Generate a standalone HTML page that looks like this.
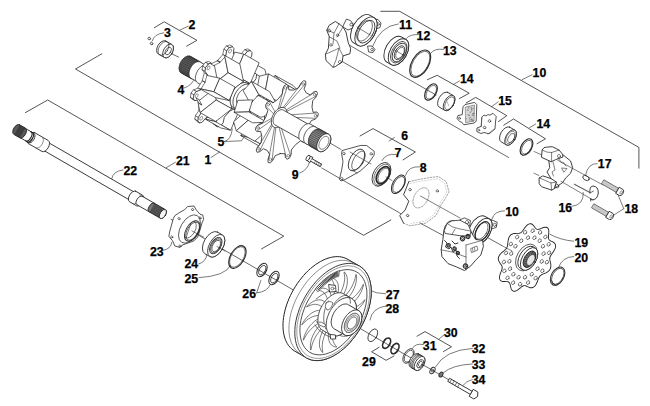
<!DOCTYPE html>
<html><head><meta charset="utf-8"><style>
html,body{margin:0;padding:0;background:#fff;width:650px;height:406px;overflow:hidden}
svg{display:block}
.l{font-family:"Liberation Sans",sans-serif;font-weight:bold;font-size:12.3px;fill:#000;stroke:#000;stroke-width:0.25px}
</style></head><body>
<svg width="650" height="406" viewBox="0 0 650 406" stroke-linecap="round" stroke-linejoin="round">
<path d="M101.8,53.8 L75.5,69 L363.5,235.3 L390.8,220" fill="none" stroke="#2a2a2a" stroke-width="0.8" />
<path d="M25.4,112.6 L47.7,100 L283.8,236.2 L261.5,248.9" fill="none" stroke="#2a2a2a" stroke-width="0.8" />
<path d="M380.8,11.3 L399.7,11.3 L638.9,147.4 L638.9,168.2" fill="none" stroke="#2a2a2a" stroke-width="0.8" />
<path d="M154.3,27.7 L164.2,21.8 L196.9,40.3 L186.6,46.2" fill="none" stroke="#2a2a2a" stroke-width="0.8" />
<path d="M360,136 L373,128.6 L415.4,152 L403,159.9" fill="none" stroke="#2a2a2a" stroke-width="0.8" />
<path d="M427.4,79.7 L437.2,75.3 L469.2,93.2 L459.4,98.6" fill="none" stroke="#2a2a2a" stroke-width="0.8" />
<path d="M466.2,102.9 L475.7,97.4 L506.8,115.7 L498.5,121.5" fill="none" stroke="#2a2a2a" stroke-width="0.8" />
<path d="M503.7,125.2 L513.5,119 L545.5,138.8 L537,143.7" fill="none" stroke="#2a2a2a" stroke-width="0.8" />
<path d="M417,336.2 L425,331.6 L451.5,346.8 L443.5,351.5" fill="none" stroke="#2a2a2a" stroke-width="0.8" />
<path d="M379.2,347.2 L371.6,351.8 L386.1,360.3 L394,356" fill="none" stroke="#2a2a2a" stroke-width="0.8" />
<path d="M342,61.4 L508.6,157.5" fill="none" stroke="#2a2a2a" stroke-width="0.7" />
<path d="M350,45.5 L436,95" fill="none" stroke="#2a2a2a" stroke-width="0.7" />
<path d="M171,219.3 L470,392" fill="none" stroke="#2a2a2a" stroke-width="0.7" />
<path d="M321.8,168 L400.6,213.5" fill="none" stroke="#2a2a2a" stroke-width="0.7" />
<path d="M330,143 L341,149.5" fill="none" stroke="#2a2a2a" stroke-width="0.7" />
<path d="M486.5,237 L501.7,245.5" fill="none" stroke="#2a2a2a" stroke-width="0.7" />
<path d="M420,223 L443.5,235.7" fill="none" stroke="#2a2a2a" stroke-width="0.7" />
<path d="M163.8,32.8 Q154,34 152.3,40.8" fill="none" stroke="#444" stroke-width="0.7" />
<path d="M180,30 L188.2,26.2" fill="none" stroke="#444" stroke-width="0.7" />
<path d="M184,88 Q192,86 196,76" fill="none" stroke="#444" stroke-width="0.7" />
<path d="M224.6,141.5 Q231,140 232.3,129 M224.6,141.5 L241.5,140.8 L244,137" fill="none" stroke="#444" stroke-width="0.7" />
<path d="M299.7,173 Q308,170 309.5,161.8" fill="none" stroke="#444" stroke-width="0.7" />
<path d="M394.5,137.5 L389,141" fill="none" stroke="#444" stroke-width="0.7" />
<path d="M395.7,154.5 Q386,153 382,160.6" fill="none" stroke="#444" stroke-width="0.7" />
<path d="M419.8,166.8 Q408,166 405.5,175.4" fill="none" stroke="#444" stroke-width="0.7" />
<path d="M532,74.8 L522,79.7" fill="none" stroke="#444" stroke-width="0.7" />
<path d="M398.4,23.9 Q380,26 372,47.7" fill="none" stroke="#444" stroke-width="0.7" />
<path d="M419.1,34.6 Q410,34 406.6,38.3" fill="none" stroke="#444" stroke-width="0.7" />
<path d="M443.5,49.4 Q434,48 430.2,53.8" fill="none" stroke="#444" stroke-width="0.7" />
<path d="M459.4,81 L453.2,84.6" fill="none" stroke="#444" stroke-width="0.7" />
<path d="M498.3,101.8 L491.4,106.8" fill="none" stroke="#444" stroke-width="0.7" />
<path d="M535.7,124 L529.5,127.7" fill="none" stroke="#444" stroke-width="0.7" />
<path d="M597.2,163.6 Q588,163 585.6,175" fill="none" stroke="#444" stroke-width="0.7" />
<path d="M571.8,206.4 Q584,205 583.3,192.5" fill="none" stroke="#444" stroke-width="0.7" />
<path d="M623.8,208.7 L618,194.8 M623.8,208.7 L611,216.8" fill="none" stroke="#444" stroke-width="0.7" />
<path d="M504.5,210.8 Q494,211 492,219" fill="none" stroke="#444" stroke-width="0.7" />
<path d="M573.7,241.2 Q560,240 550,234.3" fill="none" stroke="#444" stroke-width="0.7" />
<path d="M573.7,256.5 Q562,257 558.5,267.5" fill="none" stroke="#444" stroke-width="0.7" />
<path d="M166.2,167.7 L175.4,162.3" fill="none" stroke="#444" stroke-width="0.7" />
<path d="M123,170 Q113,171 111.6,179" fill="none" stroke="#444" stroke-width="0.7" />
<path d="M163,250.4 Q171,249 171.8,242.3" fill="none" stroke="#444" stroke-width="0.7" />
<path d="M198.8,263.9 Q206,262 207,254.3" fill="none" stroke="#444" stroke-width="0.7" />
<path d="M198.8,277.7 Q226,276 230.5,265.3" fill="none" stroke="#444" stroke-width="0.7" />
<path d="M256.7,292.9 L260.8,280.5 M256.7,292.9 Q267,292 270.4,284.6" fill="none" stroke="#444" stroke-width="0.7" />
<path d="M367.9,289.4 Q376,294 385.6,293.8" fill="none" stroke="#444" stroke-width="0.7" />
<path d="M385.6,306 Q372,308 370,320" fill="none" stroke="#444" stroke-width="0.7" />
<path d="" fill="none" stroke="#444" stroke-width="0.7" />
<path d="M444.6,334.5 L438.8,339.2" fill="none" stroke="#444" stroke-width="0.7" />
<path d="M423.4,344.5 Q415,343 412.3,348.5" fill="none" stroke="#444" stroke-width="0.7" />
<path d="M472.3,348.5 Q445,350 435.4,367" fill="none" stroke="#444" stroke-width="0.7" />
<path d="M472.3,364 Q452,365 443.5,372.7" fill="none" stroke="#444" stroke-width="0.7" />
<path d="M472.3,379.6 Q466,381 463,385.4" fill="none" stroke="#444" stroke-width="0.7" />
<path d="M211,157.5 L219.5,152" fill="none" stroke="#444" stroke-width="0.7" />
<g transform="translate(14.00,128.00) rotate(30)">
<path d="M36,-4.6 L140,-4.6 A2.53,4.6 0 0 1 140,4.6 L36,4.6 A2.53,4.6 0 0 1 36,-4.6 Z" fill="#fff" stroke="#222" stroke-width="0.8"/>
<path d="M20,-6.3 L36,-6.3 A3.47,6.3 0 0 1 36,6.3 L20,6.3 A3.47,6.3 0 0 1 20,-6.3 Z" fill="#fff" stroke="#222" stroke-width="0.8"/>
<path d="M29,-6.3 A3.47,6.3 0 0 1 29,6.3" fill="none" stroke="#555" stroke-width="0.6"/>
<path d="M10,-5.3 L20,-5.3 A2.92,5.3 0 0 1 20,5.3 L10,5.3 A2.92,5.3 0 0 1 10,-5.3 Z" fill="#fff" stroke="#222" stroke-width="0.8"/>
<path d="M16.5,-5.3 A2.92,5.3 0 0 1 16.5,5.3" fill="none" stroke="#222" stroke-width="1.1"/>
<path d="M18.3,-5.3 A2.92,5.3 0 0 1 18.3,5.3" fill="none" stroke="#222" stroke-width="1.1"/>
<path d="M3,-5.6 L10,-5.6 A3.08,5.6 0 0 1 10,5.6 L3,5.6 A3.08,5.6 0 0 1 3,-5.6 Z" fill="#5a5a5a" stroke="#222" stroke-width="0.8"/>
<path d="M3.9,-5.2 L3.9,5.2 M4.8,-5.2 L4.8,5.2 M5.7,-5.2 L5.7,5.2 M6.6,-5.2 L6.6,5.2 M7.5,-5.2 L7.5,5.2 M8.4,-5.2 L8.4,5.2 M9.3,-5.2 L9.3,5.2" stroke="#222" stroke-width="0.5"/>
<path d="M137,-6.1 L145,-6.1 A3.35,6.1 0 0 1 145,6.1 L137,6.1 A3.35,6.1 0 0 1 137,-6.1 Z" fill="#fff" stroke="#222" stroke-width="0.8"/>
<path d="M141,-6.1 A3.35,6.1 0 0 1 141,6.1" fill="none" stroke="#555" stroke-width="0.6"/>
<path d="M145,-5.0 L159,-5.0 A2.75,5.0 0 0 1 159,5.0 L145,5.0 A2.75,5.0 0 0 1 145,-5.0 Z" fill="#fff" stroke="#222" stroke-width="0.8"/>
<path d="M159,-5.0 L172,-5.0 A2.75,5.0 0 0 1 172,5.0 L159,5.0 A2.75,5.0 0 0 1 159,-5.0 Z" fill="#777" stroke="#222" stroke-width="0.8"/>
<path d="M160.0,-4.7 L160.0,4.7 M161.0,-4.7 L161.0,4.7 M162.0,-4.7 L162.0,4.7 M163.0,-4.7 L163.0,4.7 M164.0,-4.7 L164.0,4.7 M165.0,-4.7 L165.0,4.7 M166.0,-4.7 L166.0,4.7 M167.0,-4.7 L167.0,4.7 M168.0,-4.7 L168.0,4.7 M169.0,-4.7 L169.0,4.7 M170.0,-4.7 L170.0,4.7 M171.0,-4.7 L171.0,4.7" stroke="#222" stroke-width="0.5"/>
<ellipse cx="172" cy="0" rx="2.75" ry="5" fill="#f6f6f6" stroke="#222" stroke-width="0.8"/>
</g>
<path d="M188.0,206.5 L194.0,206.0 L196.2,209.8 L200.0,214.2 L202.8,215.0 L203.6,219.4 L202.0,223.0 L200.0,230.0 L197.7,237.0 L194.0,240.8 L182.0,245.2 L180.0,247.4 L174.8,246.0 L172.6,240.8 L168.9,236.4 L169.6,232.0 L173.3,218.6 L174.8,215.7 L179.2,212.7 L184.4,209.8 Z" fill="#fff" stroke="#2a2a2a" stroke-width="0.8" />
<ellipse cx="192.50" cy="209.50" rx="1.10" ry="1.10" transform="rotate(30 192.50 209.50)" fill="none" stroke="#2a2a2a" stroke-width="0.6" />
<ellipse cx="179.00" cy="218.60" rx="1.10" ry="1.10" transform="rotate(30 179.00 218.60)" fill="none" stroke="#2a2a2a" stroke-width="0.6" />
<ellipse cx="171.80" cy="237.00" rx="1.10" ry="1.10" transform="rotate(30 171.80 237.00)" fill="none" stroke="#2a2a2a" stroke-width="0.6" />
<ellipse cx="180.00" cy="246.00" rx="1.10" ry="1.10" transform="rotate(30 180.00 246.00)" fill="none" stroke="#2a2a2a" stroke-width="0.6" />
<ellipse cx="200.00" cy="218.00" rx="1.10" ry="1.10" transform="rotate(30 200.00 218.00)" fill="none" stroke="#2a2a2a" stroke-width="0.6" />
<ellipse cx="189.50" cy="229.00" rx="9.00" ry="15.50" transform="rotate(30 189.50 229.00)" fill="none" stroke="#2a2a2a" stroke-width="0.7" />
<ellipse cx="192.30" cy="231.00" rx="6.30" ry="11.20" transform="rotate(30 192.30 231.00)" fill="none" stroke="#2a2a2a" stroke-width="0.9" />
<ellipse cx="192.60" cy="231.20" rx="5.50" ry="10.00" transform="rotate(30 192.60 231.20)" fill="none" stroke="#2a2a2a" stroke-width="0.7" />
<path d="M0,-9.5 A5.3,9.5 0 0 1 0,9.5" transform="translate(189.8,229.6) rotate(30)" fill="none" stroke="#333" stroke-width="0.6"/>
<path d="M186,238 L191,223 M192,231 L203.6,237" fill="none" stroke="#2a2a2a" stroke-width="0.6" />
<g transform="translate(214.50,244.80) rotate(30)">
<path d="M-4,-12.5 L2,-12.5 A6.875000000000001,12.5 0 0 1 2,12.5 L-4,12.5 A6.875000000000001,12.5 0 0 1 -4,-12.5 Z" fill="#fff" stroke="#2a2a2a" stroke-width="0.8"/>
<ellipse cx="2" cy="0" rx="6.875000000000001" ry="12.5" fill="#fff" stroke="#2a2a2a" stroke-width="0.8"/>
</g>
<ellipse cx="215.80" cy="245.60" rx="5.00" ry="9.00" transform="rotate(30 215.80 245.60)" fill="none" stroke="#2a2a2a" stroke-width="0.9" />
<ellipse cx="216.00" cy="245.80" rx="4.30" ry="7.80" transform="rotate(30 216.00 245.80)" fill="none" stroke="#555" stroke-width="0.9" />
<ellipse cx="216.20" cy="246.00" rx="3.50" ry="6.30" transform="rotate(30 216.20 246.00)" fill="none" stroke="#2a2a2a" stroke-width="0.7" />
<path d="M217,246.5 L225,251" fill="none" stroke="#2a2a2a" stroke-width="0.6" />
<ellipse cx="237.40" cy="257.00" rx="7.00" ry="12.50" transform="rotate(30 237.40 257.00)" fill="none" stroke="#2a2a2a" stroke-width="1.1" />
<ellipse cx="237.40" cy="257.00" rx="6.20" ry="11.30" transform="rotate(30 237.40 257.00)" fill="none" stroke="#2a2a2a" stroke-width="0.6" />
<ellipse cx="262.00" cy="270.00" rx="4.30" ry="7.30" transform="rotate(30 262.00 270.00)" fill="none" stroke="#2a2a2a" stroke-width="1.0" />
<ellipse cx="262.30" cy="270.20" rx="3.00" ry="5.20" transform="rotate(30 262.30 270.20)" fill="none" stroke="#2a2a2a" stroke-width="0.8" />
<ellipse cx="274.00" cy="278.00" rx="4.30" ry="7.30" transform="rotate(30 274.00 278.00)" fill="none" stroke="#2a2a2a" stroke-width="1.0" />
<ellipse cx="274.30" cy="278.20" rx="3.00" ry="5.20" transform="rotate(30 274.30 278.20)" fill="none" stroke="#2a2a2a" stroke-width="0.8" />
<path d="M347.7,259.3 L345.9,258.4 L343.9,257.6 L341.8,257.1 L339.7,256.7 L337.5,256.6 L335.2,256.7 L332.8,257.0 L330.4,257.5 L328.0,258.2 L325.5,259.1 L323.0,260.2 L320.5,261.5 L318.0,263.0 L315.5,264.6 L313.0,266.5 L310.6,268.5 L308.2,270.6 L305.9,272.9 L303.7,275.4 L301.5,278.0 L299.4,280.7 L297.4,283.4 L295.5,286.3 L293.7,289.3 L292.0,292.3 L290.5,295.4 L289.0,298.6 L287.8,301.7 L286.6,304.9 L285.6,308.1 L284.8,311.2 L284.1,314.4 L283.6,317.5 L283.2,320.5 L283.0,323.5 L283.0,326.4 L283.1,329.2 L283.4,331.9 L283.9,334.5 L284.5,337.0 L285.3,339.3 L286.2,341.5 L287.3,343.6 L288.5,345.4 L289.9,347.1 L291.4,348.6 L293.0,350.0 L294.7,351.1 L306.5,357.9 L308.4,358.8 L310.3,359.6 L312.4,360.1 L314.5,360.5 L316.8,360.6 L319.1,360.5 L321.4,360.2 L323.8,359.7 L326.3,359.0 L328.7,358.1 L331.2,357.0 L333.7,355.7 L336.2,354.2 L338.7,352.6 L341.2,350.7 L343.6,348.7 L346.0,346.6 L348.3,344.3 L350.6,341.8 L352.7,339.2 L354.8,336.5 L356.8,333.8 L358.7,330.9 L360.5,327.9 L362.2,324.9 L363.8,321.8 L365.2,318.6 L366.5,315.5 L367.6,312.3 L368.6,309.1 L369.4,306.0 L370.1,302.8 L370.6,299.7 L371.0,296.7 L371.2,293.7 L371.2,290.8 L371.1,288.0 L370.8,285.3 L370.3,282.7 L369.7,280.2 L368.9,277.9 L368.0,275.7 L366.9,273.6 L365.7,271.8 L364.4,270.1 L362.9,268.6 L361.2,267.2 L359.5,266.1 Z" fill="#fff" stroke="#222" stroke-width="1.0"/>
<path d="M306.5,357.9 L309.0,359.1 L311.7,360.0 L314.5,360.5 L317.5,360.6 L320.6,360.3 L323.8,359.7 L327.1,358.7 L330.4,357.4 L333.7,355.7 L337.1,353.7 L340.4,351.4 L343.6,348.7 L346.8,345.8 L349.8,342.6 L352.7,339.2 L355.5,335.6 L358.1,331.8 L360.5,327.9 L362.7,323.8 L364.7,319.7 L366.5,315.5 L367.9,311.2 L369.2,307.0 L370.1,302.8 L370.8,298.7 L371.1,294.7 L371.2,290.8 L371.0,287.1 L370.5,283.5 L369.7,280.2 L368.7,277.1 L367.3,274.3 L365.7,271.8 L363.9,269.6 L361.8,267.7 L359.5,266.1 L357.0,264.9 L354.3,264.0 L351.5,263.5 L348.5,263.4 L345.4,263.7 L342.2,264.3 L338.9,265.3 L335.6,266.6 L332.3,268.3 L328.9,270.3 L325.6,272.6 L322.4,275.3 L319.2,278.2 L316.2,281.4 L313.3,284.8 L310.5,288.4 L307.9,292.2 L305.5,296.1 L303.3,300.2 L301.3,304.3 L299.5,308.5 L298.1,312.8 L296.8,317.0 L295.9,321.2 L295.2,325.3 L294.9,329.3 L294.8,333.2 L295.0,336.9 L295.5,340.5 L296.3,343.8 L297.3,346.9 L298.7,349.7 L300.3,352.2 L302.1,354.4 L304.2,356.3 Z" fill="#fff" stroke="#222" stroke-width="0.9" />
<path d="M353.0,262.9 L350.5,261.7 L347.9,260.9 L345.1,260.4 L342.1,260.3 L339.0,260.5 L335.9,261.1 L332.6,262.1 L329.3,263.4 L326.0,265.1 L322.7,267.1 L319.5,269.4 L316.3,272.0 L313.1,274.9 L310.1,278.0 L307.2,281.4 L304.5,285.0 L301.9,288.7 L299.5,292.6 L297.3,296.7 L295.3,300.8 L293.6,305.0 L292.2,309.2 L290.9,313.3 L290.0,317.5 L289.4,321.6 L289.0,325.6 L288.9,329.4 L289.1,333.1 L289.6,336.6 L290.4,339.9 L291.4,343.0 L292.8,345.7 L294.3,348.2 L296.2,350.4 L298.2,352.3 L300.5,353.9" fill="none" stroke="#444" stroke-width="0.6"/>
<path d="M308.0,355.9 L310.3,357.0 L312.9,357.8 L315.6,358.3 L318.5,358.4 L321.4,358.2 L324.5,357.6 L327.6,356.6 L330.7,355.4 L333.9,353.8 L337.1,351.8 L340.2,349.6 L343.3,347.1 L346.3,344.3 L349.2,341.3 L352.0,338.1 L354.7,334.6 L357.1,331.0 L359.4,327.3 L361.5,323.4 L363.4,319.4 L365.1,315.4 L366.5,311.4 L367.7,307.4 L368.6,303.4 L369.2,299.4 L369.5,295.6 L369.6,291.9 L369.4,288.4 L368.9,285.0 L368.2,281.8 L367.2,278.9 L365.9,276.2 L364.4,273.8 L362.6,271.7 L360.6,269.9 L358.5,268.4 L356.1,267.2 L353.5,266.4 L350.8,266.0 L348.0,265.8 L345.0,266.1 L342.0,266.7 L338.8,267.6 L335.7,268.9 L332.5,270.5 L329.3,272.4 L326.2,274.6 L323.1,277.1 L320.1,279.9 L317.2,282.9 L314.4,286.2 L311.8,289.6 L309.3,293.2 L307.0,297.0 L304.9,300.8 L303.0,304.8 L301.3,308.8 L299.9,312.8 L298.8,316.9 L297.9,320.9 L297.2,324.8 L296.9,328.6 L296.8,332.3 L297.0,335.9 L297.5,339.3 L298.2,342.4 L299.2,345.4 L300.5,348.0 L302.0,350.4 L303.8,352.6 L305.8,354.4 Z" fill="none" stroke="#555" stroke-width="0.6" />
<path d="M310.2,352.5 L312.4,353.6 L314.7,354.3 L317.2,354.7 L319.8,354.9 L322.6,354.6 L325.4,354.1 L328.2,353.2 L331.1,352.1 L334.1,350.6 L337.0,348.8 L339.9,346.8 L342.7,344.5 L345.5,341.9 L348.2,339.1 L350.7,336.1 L353.2,333.0 L355.5,329.6 L357.6,326.2 L359.5,322.6 L361.2,319.0 L362.8,315.3 L364.1,311.6 L365.1,307.9 L366.0,304.2 L366.5,300.6 L366.9,297.0 L366.9,293.6 L366.8,290.4 L366.3,287.3 L365.6,284.3 L364.7,281.6 L363.5,279.2 L362.1,277.0 L360.5,275.0 L358.7,273.3 L356.7,272.0 L354.5,270.9 L352.1,270.2 L349.6,269.7 L347.0,269.6 L344.3,269.8 L341.5,270.4 L338.6,271.3 L335.7,272.4 L332.8,273.9 L329.9,275.7 L327.0,277.7 L324.1,280.0 L321.3,282.6 L318.7,285.4 L316.1,288.3 L313.7,291.5 L311.4,294.8 L309.3,298.3 L307.3,301.9 L305.6,305.5 L304.1,309.2 L302.8,312.9 L301.7,316.6 L300.9,320.3 L300.3,323.9 L300.0,327.4 L299.9,330.9 L300.1,334.1 L300.5,337.2 L301.2,340.1 L302.1,342.8 L303.3,345.3 L304.7,347.5 L306.3,349.5 L308.1,351.1 Z" fill="#fff" stroke="#222" stroke-width="0.8" />
<path d="M323.0,330.5 L321.8,333.1 L320.8,335.8 L320.0,338.6 L319.5,341.4 L319.4,344.3 L319.7,347.2 L320.7,349.9 L322.4,352.4 L322.9,352.4 L322.4,349.9 L322.2,347.3 L322.3,344.7 L322.6,342.0 L323.3,339.3 L324.1,336.7 L325.1,334.1 L326.2,331.4 Z" fill="#fff" stroke="#333" stroke-width="0.65"/><path d="M328.8,331.3 L328.5,333.9 L328.3,336.4 L328.5,338.8 L329.1,341.1 L330.0,343.2 L331.5,345.0 L333.5,346.4 L336.4,347.1 L336.9,346.8 L335.4,345.3 L334.2,343.6 L333.3,341.7 L332.7,339.6 L332.4,337.4 L332.4,335.0 L332.5,332.6 L332.7,330.1 Z" fill="#fff" stroke="#333" stroke-width="0.65"/><path d="M335.5,328.4 L336.1,330.4 L336.9,332.3 L338.0,333.8 L339.5,335.1 L341.3,336.0 L343.6,336.4 L346.4,336.1 L349.8,334.9 L350.2,334.3 L348.1,334.2 L346.1,333.8 L344.4,333.0 L343.0,331.8 L341.8,330.5 L340.8,328.8 L340.0,327.1 L339.3,325.2 Z" fill="#fff" stroke="#333" stroke-width="0.65"/><path d="M341.8,322.3 L343.2,323.3 L344.8,324.1 L346.6,324.6 L348.7,324.6 L351.1,324.1 L353.7,322.9 L356.7,321.1 L359.9,318.2 L360.2,317.5 L357.8,318.7 L355.5,319.6 L353.3,320.1 L351.3,320.2 L349.5,319.9 L347.8,319.4 L346.3,318.6 L344.8,317.7 Z" fill="#fff" stroke="#333" stroke-width="0.65"/><path d="M346.5,314.2 L348.4,314.1 L350.4,313.7 L352.6,312.9 L354.9,311.6 L357.3,309.8 L359.8,307.4 L362.4,304.3 L364.9,300.3 L364.9,299.6 L362.7,302.0 L360.5,304.0 L358.3,305.7 L356.1,306.9 L354.0,307.8 L352.0,308.5 L350.0,308.9 L348.0,309.1 Z" fill="#fff" stroke="#333" stroke-width="0.65"/><path d="M348.5,305.7 L350.6,304.4 L352.7,302.9 L354.8,301.0 L356.8,298.7 L358.8,296.0 L360.7,292.8 L362.3,289.1 L363.6,284.8 L363.4,284.2 L361.8,287.2 L360.1,290.0 L358.3,292.5 L356.4,294.7 L354.4,296.7 L352.4,298.3 L350.4,299.8 L348.3,301.2 Z" fill="#fff" stroke="#333" stroke-width="0.65"/><path d="M347.6,298.5 L349.4,296.3 L351.1,294.0 L352.7,291.4 L354.1,288.6 L355.3,285.4 L356.1,282.1 L356.5,278.5 L356.3,274.7 L355.9,274.4 L355.3,277.5 L354.5,280.5 L353.4,283.3 L352.2,286.0 L350.7,288.6 L349.1,291.0 L347.4,293.2 L345.7,295.5 Z" fill="#fff" stroke="#333" stroke-width="0.65"/><path d="M343.8,294.0 L345.0,291.4 L346.1,288.7 L346.8,285.9 L347.3,283.1 L347.4,280.2 L347.1,277.3 L346.2,274.6 L344.5,272.0 L344.0,272.1 L344.4,274.6 L344.7,277.2 L344.6,279.8 L344.2,282.5 L343.6,285.1 L342.7,287.8 L341.7,290.4 L340.6,293.0 Z" fill="#fff" stroke="#333" stroke-width="0.65"/><path d="M338.0,293.1 L338.4,290.6 L338.5,288.1 L338.3,285.6 L337.8,283.3 L336.8,281.3 L335.3,279.5 L333.3,278.1 L330.5,277.4 L329.9,277.7 L331.4,279.2 L332.6,280.8 L333.5,282.7 L334.1,284.8 L334.4,287.1 L334.5,289.5 L334.4,291.9 L334.1,294.4 Z" fill="#fff" stroke="#333" stroke-width="0.65"/><path d="M331.3,296.1 L330.7,294.1 L329.9,292.2 L328.8,290.6 L327.3,289.4 L325.5,288.5 L323.2,288.1 L320.4,288.4 L317.1,289.6 L316.6,290.2 L318.8,290.3 L320.7,290.7 L322.4,291.5 L323.9,292.6 L325.0,294.0 L326.0,295.6 L326.8,297.4 L327.5,299.3 Z" fill="#fff" stroke="#333" stroke-width="0.65"/><path d="M325.0,302.2 L323.6,301.1 L322.0,300.3 L320.2,299.9 L318.1,299.9 L315.8,300.4 L313.1,301.5 L310.2,303.4 L306.9,306.3 L306.6,307.0 L309.0,305.8 L311.4,304.9 L313.5,304.4 L315.5,304.3 L317.3,304.6 L319.0,305.1 L320.6,305.9 L322.0,306.8 Z" fill="#fff" stroke="#333" stroke-width="0.65"/><path d="M320.4,310.3 L318.4,310.4 L316.4,310.8 L314.2,311.6 L311.9,312.9 L309.5,314.7 L307.0,317.1 L304.5,320.2 L302.0,324.2 L301.9,324.9 L304.1,322.5 L306.4,320.5 L308.6,318.8 L310.7,317.6 L312.8,316.6 L314.9,316.0 L316.9,315.6 L318.8,315.3 Z" fill="#fff" stroke="#333" stroke-width="0.65"/><path d="M318.3,318.8 L316.2,320.1 L314.1,321.6 L312.1,323.5 L310.0,325.7 L308.0,328.5 L306.2,331.7 L304.5,335.4 L303.3,339.7 L303.4,340.2 L305.0,337.2 L306.7,334.4 L308.5,331.9 L310.4,329.7 L312.4,327.8 L314.4,326.1 L316.4,324.6 L318.5,323.3 Z" fill="#fff" stroke="#333" stroke-width="0.65"/><path d="M319.3,326.0 L317.4,328.1 L315.7,330.5 L314.1,333.1 L312.7,335.9 L311.5,339.0 L310.7,342.4 L310.3,346.0 L310.5,349.8 L310.9,350.1 L311.5,347.0 L312.3,344.0 L313.4,341.2 L314.7,338.5 L316.1,335.9 L317.7,333.5 L319.4,331.2 L321.1,329.0 Z" fill="#fff" stroke="#333" stroke-width="0.65"/>
<path d="M339.2,270.6 L338.1,271.0 L336.9,271.5 L335.7,272.0 L334.5,272.6 L333.4,273.2 L332.2,273.8 L331.0,274.5 L329.8,275.3 L328.6,276.1 L327.5,276.9 L326.3,277.8 L325.2,278.7 L324.0,279.7 L322.9,280.7 L321.8,281.7 L320.7,282.8 L319.6,283.9 L318.5,285.1 L317.5,286.3 L316.4,287.5 L315.4,288.7 L317.9,292.0 L318.8,290.9 L319.7,289.8 L320.6,288.8 L321.5,287.8 L322.4,286.9 L323.4,285.9 L324.3,285.0 L325.3,284.2 L326.3,283.3 L327.3,282.6 L328.3,281.8 L329.3,281.1 L330.3,280.4 L331.3,279.7 L332.3,279.1 L333.4,278.6 L334.4,278.0 L335.4,277.6 L336.4,277.1 L337.4,276.7 L338.4,276.4 Z" fill="#fff" stroke="#333" stroke-width="0.6"/>
<path d="M338.0,275.8 L337.9,271.8 M337.0,276.2 L336.7,272.2 M336.0,276.6 L335.6,272.7 M334.9,277.1 L334.4,273.3 M333.9,277.6 L333.2,273.9 M332.8,278.2 L332.1,274.5 M331.8,278.8 L330.9,275.2 M330.8,279.4 L329.8,276.0 M329.7,280.1 L328.6,276.8 M328.7,280.8 L327.5,277.6 M327.7,281.6 L326.3,278.5 M326.7,282.4 L325.2,279.4 M325.7,283.2 L324.1,280.3 M324.7,284.1 L323.0,281.3 M323.7,285.0 L321.9,282.3 M322.7,285.9 L320.8,283.4 M321.7,286.9 L319.7,284.5 M320.8,287.9 L318.7,285.6 M319.8,288.9 L317.6,286.8 M318.9,289.9 L316.6,288.0" fill="none" stroke="#222" stroke-width="0.9"/>
<path d="M316,299 Q322,294 329,291 L336,291.5 Q343,294 346,299" fill="none" stroke="#333" stroke-width="0.7"/>
<path d="M315,325 Q320,333 330,337 L336,338" fill="none" stroke="#333" stroke-width="0.7"/>
<path d="M343.5,293.8 L342.8,293.4 L342.0,293.1 L341.2,292.9 L340.3,292.8 L339.4,292.8 L338.5,292.8 L337.6,292.9 L336.6,293.1 L335.7,293.4 L334.7,293.7 L333.7,294.2 L332.7,294.7 L331.7,295.3 L330.7,295.9 L329.8,296.7 L328.8,297.5 L327.9,298.3 L326.9,299.2 L326.0,300.2 L325.2,301.2 L324.3,302.3 L323.6,303.4 L322.8,304.5 L322.1,305.7 L321.4,306.9 L320.8,308.1 L320.2,309.4 L319.7,310.6 L319.3,311.9 L318.9,313.1 L318.6,314.4 L318.3,315.6 L318.1,316.9 L318.0,318.1 L317.9,319.3 L317.9,320.4 L317.9,321.5 L318.0,322.6 L318.2,323.6 L318.5,324.6 L318.8,325.5 L319.1,326.4 L319.5,327.2 L320.0,327.9 L320.6,328.6 L321.2,329.2 L321.8,329.7 L322.5,330.2 L330.8,335.0 L331.5,335.4 L332.3,335.7 L333.1,335.9 L334.0,336.0 L334.9,336.0 L335.8,336.0 L336.7,335.9 L337.7,335.7 L338.6,335.4 L339.6,335.1 L340.6,334.6 L341.6,334.1 L342.6,333.5 L343.6,332.9 L344.6,332.1 L345.5,331.3 L346.5,330.5 L347.4,329.6 L348.3,328.6 L349.1,327.6 L350.0,326.5 L350.8,325.4 L351.5,324.3 L352.2,323.1 L352.9,321.9 L353.5,320.7 L354.1,319.4 L354.6,318.2 L355.0,316.9 L355.4,315.7 L355.7,314.4 L356.0,313.2 L356.2,311.9 L356.4,310.7 L356.4,309.5 L356.5,308.4 L356.4,307.3 L356.3,306.2 L356.1,305.2 L355.9,304.2 L355.6,303.3 L355.2,302.4 L354.8,301.6 L354.3,300.9 L353.7,300.2 L353.1,299.6 L352.5,299.1 L351.8,298.6 Z" fill="#fff" stroke="#222" stroke-width="0.8"/>
<path d="M330.8,335.0 L332.3,335.7 L334.0,336.0 L335.8,336.0 L337.7,335.7 L339.6,335.1 L341.6,334.1 L343.6,332.9 L345.5,331.3 L347.4,329.6 L349.1,327.6 L350.8,325.4 L352.2,323.1 L353.5,320.7 L354.6,318.2 L355.4,315.7 L356.0,313.2 L356.4,310.7 L356.5,308.4 L356.3,306.2 L355.9,304.2 L355.2,302.4 L354.3,300.9 L353.1,299.6 L351.8,298.6 L350.3,297.9 L348.6,297.6 L346.8,297.6 L345.0,297.9 L343.0,298.5 L341.0,299.5 L339.0,300.7 L337.1,302.3 L335.3,304.0 L333.5,306.0 L331.9,308.2 L330.4,310.5 L329.1,312.9 L328.1,315.4 L327.2,317.9 L326.6,320.4 L326.3,322.9 L326.2,325.2 L326.3,327.4 L326.8,329.4 L327.4,331.2 L328.3,332.7 L329.5,334.0 Z" fill="#fff" stroke="#222" stroke-width="0.8"/>
<path d="M348.3,304.7 L347.8,304.4 L347.3,304.2 L346.8,304.1 L346.2,304.0 L345.6,304.0 L345.0,304.0 L344.4,304.1 L343.7,304.2 L343.1,304.4 L342.4,304.6 L341.8,304.9 L341.1,305.3 L340.5,305.6 L339.8,306.1 L339.2,306.6 L338.5,307.1 L337.9,307.7 L337.3,308.3 L336.7,308.9 L336.1,309.6 L335.5,310.3 L335.0,311.1 L334.5,311.8 L334.0,312.6 L333.6,313.4 L333.2,314.2 L332.8,315.0 L332.5,315.9 L332.2,316.7 L331.9,317.6 L331.7,318.4 L331.5,319.2 L331.4,320.0 L331.3,320.8 L331.2,321.6 L331.2,322.4 L331.3,323.1 L331.3,323.9 L331.5,324.5 L331.6,325.2 L331.8,325.8 L332.1,326.4 L332.3,326.9 L332.7,327.4 L333.0,327.9 L333.4,328.3 L333.9,328.6 L334.3,328.9 L344.7,334.9 L345.2,335.2 L345.7,335.4 L346.3,335.5 L346.8,335.6 L347.4,335.6 L348.0,335.6 L348.6,335.5 L349.3,335.4 L349.9,335.2 L350.6,335.0 L351.2,334.7 L351.9,334.3 L352.6,334.0 L353.2,333.5 L353.9,333.0 L354.5,332.5 L355.1,331.9 L355.7,331.3 L356.3,330.7 L356.9,330.0 L357.5,329.3 L358.0,328.5 L358.5,327.8 L359.0,327.0 L359.4,326.2 L359.8,325.4 L360.2,324.6 L360.5,323.7 L360.8,322.9 L361.1,322.0 L361.3,321.2 L361.5,320.4 L361.6,319.6 L361.7,318.8 L361.8,318.0 L361.8,317.2 L361.8,316.5 L361.7,315.7 L361.6,315.1 L361.4,314.4 L361.2,313.8 L361.0,313.2 L360.7,312.7 L360.4,312.2 L360.0,311.7 L359.6,311.3 L359.2,311.0 L358.7,310.7 Z" fill="#fff" stroke="#222" stroke-width="0.9"/>
<path d="M344.7,334.9 L345.7,335.4 L346.8,335.6 L348.0,335.6 L349.3,335.4 L350.6,335.0 L351.9,334.3 L353.2,333.5 L354.5,332.5 L355.7,331.3 L356.9,330.0 L358.0,328.5 L359.0,327.0 L359.8,325.4 L360.5,323.7 L361.1,322.0 L361.5,320.4 L361.7,318.8 L361.8,317.2 L361.7,315.7 L361.4,314.4 L361.0,313.2 L360.4,312.2 L359.6,311.3 L358.7,310.7 L357.7,310.2 L356.6,310.0 L355.4,310.0 L354.1,310.2 L352.8,310.6 L351.5,311.3 L350.2,312.1 L348.9,313.1 L347.7,314.3 L346.5,315.6 L345.4,317.1 L344.4,318.6 L343.6,320.2 L342.9,321.9 L342.3,323.6 L341.9,325.2 L341.7,326.8 L341.6,328.4 L341.7,329.9 L342.0,331.2 L342.5,332.4 L343.1,333.4 L343.8,334.3 Z" fill="#fff" stroke="#222" stroke-width="0.9"/>
<path d="M346.6,332.0 L347.1,332.2 L347.6,332.4 L348.2,332.5 L348.8,332.5 L349.4,332.5 L350.0,332.3 L350.7,332.1 L351.3,331.9 L352.0,331.5 L352.6,331.1 L353.3,330.7 L353.9,330.2 L354.6,329.6 L355.2,329.0 L355.8,328.3 L356.3,327.6 L356.8,326.8 L357.3,326.0 L357.7,325.2 L358.1,324.4 L358.5,323.6 L358.8,322.7 L359.0,321.9 L359.2,321.1 L359.3,320.2 L359.4,319.4 L359.4,318.7 L359.4,317.9 L359.3,317.2 L359.1,316.6 L358.9,316.0 L358.6,315.4 L358.3,314.9 L358.0,314.5 L357.6,314.1 L357.1,313.8 L356.6,313.5 L356.1,313.4 L355.5,313.3 L354.9,313.3 L354.3,313.3 L353.7,313.4 L353.0,313.6 L352.4,313.9 L351.7,314.2 L351.0,314.6 L350.4,315.1 L349.7,315.6 L349.1,316.2 L348.5,316.8 L347.9,317.5 L347.4,318.2 L346.9,318.9 L346.4,319.7 L346.0,320.5 L345.6,321.4 L345.2,322.2 L344.9,323.0 L344.7,323.9 L344.5,324.7 L344.4,325.5 L344.3,326.3 L344.3,327.1 L344.3,327.8 L344.4,328.5 L344.6,329.2 L344.8,329.8 L345.0,330.3 L345.4,330.8 L345.7,331.3 L346.1,331.7 Z" fill="#f2f2f2" stroke="#222" stroke-width="0.8" />
<path d="M347.7,330.3 L348.1,330.5 L348.6,330.7 L349.0,330.7 L349.5,330.7 L350.0,330.7 L350.5,330.6 L351.0,330.5 L351.6,330.2 L352.1,330.0 L352.6,329.6 L353.2,329.3 L353.7,328.8 L354.2,328.4 L354.7,327.9 L355.1,327.3 L355.6,326.7 L356.0,326.1 L356.4,325.5 L356.8,324.9 L357.1,324.2 L357.3,323.5 L357.6,322.8 L357.8,322.2 L357.9,321.5 L358.0,320.8 L358.1,320.2 L358.1,319.6 L358.1,319.0 L358.0,318.4 L357.9,317.9 L357.7,317.4 L357.5,316.9 L357.2,316.5 L356.9,316.2 L356.6,315.8 L356.2,315.6 L355.8,315.4 L355.4,315.3 L354.9,315.2 L354.5,315.2 L354.0,315.2 L353.5,315.3 L352.9,315.5 L352.4,315.7 L351.9,316.0 L351.3,316.3 L350.8,316.6 L350.3,317.1 L349.8,317.5 L349.3,318.0 L348.8,318.6 L348.4,319.2 L348.0,319.8 L347.6,320.4 L347.2,321.1 L346.9,321.7 L346.6,322.4 L346.4,323.1 L346.2,323.8 L346.0,324.4 L345.9,325.1 L345.9,325.7 L345.9,326.4 L345.9,327.0 L346.0,327.5 L346.1,328.1 L346.3,328.6 L346.5,329.0 L346.7,329.4 L347.0,329.8 L347.4,330.1 Z" fill="none" stroke="#444" stroke-width="0.6" />
<path d="M348.9,328.7 L349.2,328.8 L349.5,328.9 L349.9,329.0 L350.2,329.0 L350.6,329.0 L351.0,328.9 L351.4,328.8 L351.8,328.6 L352.2,328.4 L352.6,328.2 L353.0,327.9 L353.4,327.5 L353.8,327.2 L354.2,326.8 L354.5,326.4 L354.9,325.9 L355.2,325.5 L355.5,325.0 L355.8,324.5 L356.0,324.0 L356.2,323.5 L356.4,322.9 L356.6,322.4 L356.7,321.9 L356.8,321.4 L356.8,320.9 L356.8,320.4 L356.8,320.0 L356.7,319.5 L356.6,319.1 L356.5,318.8 L356.3,318.4 L356.1,318.1 L355.9,317.8 L355.7,317.6 L355.4,317.4 L355.1,317.3 L354.7,317.2 L354.4,317.1 L354.0,317.1 L353.6,317.1 L353.2,317.2 L352.8,317.3 L352.4,317.5 L352.0,317.7 L351.6,317.9 L351.2,318.2 L350.8,318.5 L350.4,318.9 L350.1,319.3 L349.7,319.7 L349.4,320.1 L349.0,320.6 L348.7,321.1 L348.5,321.6 L348.2,322.1 L348.0,322.6 L347.8,323.1 L347.7,323.7 L347.6,324.2 L347.5,324.7 L347.4,325.2 L347.4,325.6 L347.5,326.1 L347.5,326.5 L347.6,326.9 L347.7,327.3 L347.9,327.7 L348.1,328.0 L348.3,328.2 L348.6,328.5 Z" fill="#fff" stroke="#222" stroke-width="0.7" />
<path d="M350.3,303.2 L350.3,300.8 L349.8,298.7 L348.9,297.1 L347.7,296.0 L346.1,295.5 L344.3,295.5 L342.3,296.2 L340.1,297.4 L338.0,299.1 L335.9,301.4 L333.9,304.1 M328.4,300.9 L327.2,303.2 L326.1,305.7 L325.2,308.3 L324.5,311.0 L324.0,313.7 L323.8,316.5 L323.7,319.2 L323.9,321.9 L324.3,324.4 L325.0,326.9 L325.9,329.1" fill="none" stroke="#333" stroke-width="0.7"/>
<path d="M329,284.5 L335.5,285.5 L336,291.5 L330,292 Z" fill="#fff" stroke="#222" stroke-width="0.8"/>
<ellipse cx="332.5" cy="288.5" rx="1.6" ry="1.3" fill="#fff" stroke="#333" stroke-width="0.6"/>
<path d="M330.5,334.5 L335.5,335 L335.5,339 L331,339 Z" fill="#fff" stroke="#222" stroke-width="0.8"/>
<path d="M326,303 Q330,300 333,303 Q331,310 327,310 Q324,307 326,303 Z" fill="#fff" stroke="#333" stroke-width="0.7"/>
<path d="M317,322 Q322,321 326,325 L324,327 Q319,326 317,322 Z" fill="#fff" stroke="#333" stroke-width="0.7"/>
<ellipse cx="372.80" cy="335.30" rx="4.00" ry="6.90" transform="rotate(30 372.80 335.30)" fill="none" stroke="#2a2a2a" stroke-width="0.8" />
<ellipse cx="386.60" cy="343.20" rx="3.30" ry="5.60" transform="rotate(30 386.60 343.20)" fill="none" stroke="#2a2a2a" stroke-width="1.7" />
<ellipse cx="395.00" cy="348.60" rx="3.30" ry="5.60" transform="rotate(30 395.00 348.60)" fill="none" stroke="#2a2a2a" stroke-width="1.7" />
<ellipse cx="408.50" cy="356.00" rx="4.60" ry="8.00" transform="rotate(30 408.50 356.00)" fill="none" stroke="#2a2a2a" stroke-width="0.8" />
<ellipse cx="408.80" cy="356.20" rx="3.70" ry="6.50" transform="rotate(30 408.80 356.20)" fill="none" stroke="#2a2a2a" stroke-width="0.7" />
<g transform="translate(417.00,362.00) rotate(30)">
<path d="M-3,-7.8 L3,-7.8 A4.29,7.8 0 0 1 3,7.8 L-3,7.8 A4.29,7.8 0 0 1 -3,-7.8 Z" fill="#fff" stroke="#2a2a2a" stroke-width="0.8"/>
<ellipse cx="3" cy="0" rx="4.29" ry="7.8" fill="#fff" stroke="#2a2a2a" stroke-width="0.8"/>
</g>
<path d="M-1.5,-7.8 A4.3,7.8 0 0 0 -1.5,7.8 M0,-7.8 A4.3,7.8 0 0 0 0,7.8 M1.2,-7.8 A4.3,7.8 0 0 0 1.2,7.8" transform="translate(417,362) rotate(30)" fill="none" stroke="#333" stroke-width="0.7"/>
<ellipse cx="420.20" cy="363.80" rx="2.60" ry="4.60" transform="rotate(30 420.20 363.80)" fill="none" stroke="#2a2a2a" stroke-width="0.8" />
<ellipse cx="420.40" cy="363.90" rx="1.60" ry="2.80" transform="rotate(30 420.40 363.90)" fill="none" stroke="#2a2a2a" stroke-width="0.6" />
<ellipse cx="432.50" cy="370.50" rx="2.20" ry="3.50" transform="rotate(30 432.50 370.50)" fill="none" stroke="#2a2a2a" stroke-width="0.9" />
<ellipse cx="432.60" cy="370.60" rx="1.00" ry="1.60" transform="rotate(30 432.60 370.60)" fill="none" stroke="#2a2a2a" stroke-width="0.6" />
<ellipse cx="441.00" cy="374.50" rx="1.80" ry="2.70" transform="rotate(30 441.00 374.50)" fill="#777" stroke="#2a2a2a" stroke-width="0.9" />
<g transform="translate(449.00,380.00) rotate(30)">
<path d="M0,-1.8 L26,-1.8 L26,1.8 L0,1.8 Z" fill="#fff" stroke="#222" stroke-width="0.8"/>
<path d="M2,-1.8 L2,1.8 M5,-1.8 L5,1.8 M8,-1.8 L8,1.8 M11,-1.8 L11,1.8" stroke="#333" stroke-width="0.6"/>
<path d="M26,-4 L31,-4 L33,0 L31,4 L26,4 Z" fill="#fff" stroke="#222" stroke-width="0.8"/>
</g>
<ellipse cx="149.20" cy="38.50" rx="1.30" ry="1.30" transform="rotate(30 149.20 38.50)" fill="none" stroke="#2a2a2a" stroke-width="0.7" />
<ellipse cx="151.50" cy="43.50" rx="1.30" ry="1.30" transform="rotate(30 151.50 43.50)" fill="none" stroke="#2a2a2a" stroke-width="0.7" />
<g transform="translate(165.50,49.50) rotate(30)">
<path d="M-4,-7.5 L3,-7.5 A4.5,7.5 0 0 1 3,7.5 L-4,7.5 A4.5,7.5 0 0 1 -4,-7.5 Z" fill="#fff" stroke="#2a2a2a" stroke-width="0.8"/>
<ellipse cx="3" cy="0" rx="4.5" ry="7.5" fill="#fff" stroke="#2a2a2a" stroke-width="0.8"/>
</g>
<ellipse cx="163.50" cy="48.40" rx="4.50" ry="7.50" transform="rotate(30 163.50 48.40)" fill="none" stroke="#2a2a2a" stroke-width="0.6" />
<ellipse cx="168.20" cy="51.00" rx="2.50" ry="4.20" transform="rotate(30 168.20 51.00)" fill="none" stroke="#2a2a2a" stroke-width="0.7" />
<path d="M171.5,53.8 L178.5,57" fill="none" stroke="#2a2a2a" stroke-width="0.7" />
<path d="M233.3,106.3 L236.1,108.8 L238.9,110.4 L236.1,107.9 Z" fill="#fff" stroke="#222" stroke-width="0.6" />
<path d="M242.1,106.5 L242.6,105.5 L242.8,104.5 L242.5,103.8 L241.9,103.6 L241.1,103.9 L240.4,104.6 L239.9,105.6 L239.7,106.5 L239.9,107.3 L240.5,107.5 L241.3,107.3 Z" fill="#fff" stroke="#222" stroke-width="0.5" />
<path d="M190.6,56.4 L190.2,56.3 L189.9,56.1 L189.5,56.0 L189.1,56.0 L188.7,56.0 L188.3,56.0 L187.9,56.0 L187.5,56.1 L187.0,56.3 L186.6,56.4 L186.2,56.6 L185.7,56.9 L185.3,57.1 L184.8,57.4 L184.4,57.8 L183.9,58.1 L183.5,58.5 L183.1,58.9 L182.7,59.4 L182.3,59.8 L182.0,60.3 L181.6,60.8 L181.3,61.4 L180.9,61.9 L180.6,62.4 L180.4,63.0 L180.1,63.6 L179.9,64.1 L179.7,64.7 L179.5,65.3 L179.4,65.8 L179.3,66.4 L179.2,67.0 L179.1,67.5 L179.1,68.0 L179.1,68.6 L179.1,69.1 L179.2,69.5 L179.3,70.0 L179.4,70.5 L179.5,70.9 L179.7,71.3 L179.9,71.6 L180.1,72.0 L180.3,72.3 L180.6,72.5 L180.9,72.8 L181.2,73.0 L191.0,78.5 L191.3,78.6 L191.7,78.8 L192.0,78.9 L192.4,78.9 L192.8,78.9 L193.2,78.9 L193.7,78.9 L194.1,78.8 L194.5,78.6 L195.0,78.5 L195.4,78.3 L195.9,78.0 L196.3,77.8 L196.7,77.5 L197.2,77.1 L197.6,76.8 L198.0,76.4 L198.4,76.0 L198.8,75.5 L199.2,75.1 L199.6,74.6 L200.0,74.1 L200.3,73.6 L200.6,73.0 L200.9,72.5 L201.2,71.9 L201.4,71.4 L201.7,70.8 L201.9,70.2 L202.0,69.6 L202.2,69.1 L202.3,68.5 L202.4,68.0 L202.4,67.4 L202.5,66.9 L202.5,66.4 L202.4,65.8 L202.4,65.4 L202.3,64.9 L202.2,64.5 L202.0,64.0 L201.9,63.6 L201.7,63.3 L201.5,63.0 L201.2,62.7 L200.9,62.4 L200.6,62.1 L200.3,61.9 Z" fill="#5a5a5a" stroke="#222" stroke-width="0.8"/>
<path d="M189.4,56.0 L199.1,61.5 M188.0,56.0 L197.7,61.5 M186.5,56.5 L196.2,62.0 M184.9,57.3 L194.7,62.9 M183.5,58.6 L193.2,64.1 M182.1,60.1 L191.9,65.6 M180.9,61.9 L190.7,67.4 M180.0,63.8 L189.8,69.3 M179.4,65.8 L189.2,71.3 M179.1,67.7 L188.9,73.2 M179.2,69.4 L188.9,74.9 M179.5,70.9 L189.3,76.4 M180.2,72.1 L190.0,77.6" stroke="#222" stroke-width="0.5" fill="none"/>
<path d="M254.6,77.3 L254.5,76.3 L254.1,75.8 L253.4,75.8 L252.6,76.3 L252.0,77.2 L251.7,78.2 L251.8,79.0 L252.2,79.6 L252.8,79.7 L253.6,79.2 L254.2,78.3 Z" fill="#fff" stroke="#222" stroke-width="0.5" />
<path d="M252.2,71.2 L247.9,72.1 L250.7,73.7 L255.0,72.8 Z" fill="#fff" stroke="#222" stroke-width="0.6" />
<path d="M259.6,107.1 L265.5,93.5 L250.1,84.8 L244.3,98.5 Z" fill="#fff" stroke="#222" stroke-width="0.7" />
<path d="M200.2,62.1 L199.9,62.0 L199.6,61.8 L199.2,61.7 L198.8,61.7 L198.4,61.7 L198.0,61.7 L197.6,61.7 L197.2,61.8 L196.8,62.0 L196.3,62.1 L195.9,62.3 L195.5,62.5 L195.0,62.8 L194.6,63.1 L194.2,63.4 L193.7,63.8 L193.3,64.2 L192.9,64.6 L192.5,65.0 L192.1,65.5 L191.8,65.9 L191.4,66.4 L191.1,66.9 L190.8,67.5 L190.5,68.0 L190.2,68.5 L190.0,69.1 L189.8,69.7 L189.6,70.2 L189.4,70.8 L189.3,71.3 L189.2,71.9 L189.1,72.4 L189.0,73.0 L189.0,73.5 L189.0,74.0 L189.0,74.5 L189.1,75.0 L189.1,75.4 L189.3,75.8 L189.4,76.3 L189.6,76.6 L189.8,77.0 L190.0,77.3 L190.2,77.6 L190.5,77.9 L190.8,78.1 L191.1,78.3 L198.0,82.2 L198.4,82.4 L198.7,82.5 L199.1,82.6 L199.4,82.7 L199.8,82.7 L200.2,82.7 L200.7,82.6 L201.1,82.5 L201.5,82.4 L201.9,82.2 L202.4,82.0 L202.8,81.8 L203.2,81.6 L203.7,81.3 L204.1,80.9 L204.5,80.6 L204.9,80.2 L205.3,79.8 L205.7,79.4 L206.1,78.9 L206.5,78.4 L206.8,77.9 L207.2,77.4 L207.5,76.9 L207.8,76.4 L208.0,75.8 L208.3,75.3 L208.5,74.7 L208.7,74.2 L208.9,73.6 L209.0,73.0 L209.1,72.5 L209.2,71.9 L209.3,71.4 L209.3,70.9 L209.3,70.4 L209.3,69.9 L209.2,69.4 L209.1,68.9 L209.0,68.5 L208.9,68.1 L208.7,67.7 L208.5,67.4 L208.3,67.0 L208.1,66.7 L207.8,66.5 L207.5,66.3 L207.2,66.1 Z" fill="#fff" stroke="#222" stroke-width="0.8"/>
<path d="M230.4,95.4 L244.3,98.5 L250.1,84.8 L236.3,81.8 Z" fill="#fff" stroke="#222" stroke-width="0.7" />
<path d="M213.1,123.5 L214.8,125.3 L217.5,126.9 L215.9,125.1 Z" fill="#fff" stroke="#222" stroke-width="0.6" />
<path d="M240.6,126.8 L251.1,118.5 L235.8,109.9 L225.2,118.1 Z" fill="#fff" stroke="#222" stroke-width="0.7" />
<path d="M219.5,124.2 L220.3,123.7 L221.0,122.8 L221.3,121.8 L221.2,121.0 L220.7,120.6 L220.0,120.6 L219.2,121.1 L218.6,121.9 L218.2,122.8 L218.3,123.7 L218.7,124.2 Z" fill="#fff" stroke="#222" stroke-width="0.5" />
<path d="M221.8,101.2 L225.2,118.1 L235.8,109.9 L232.3,92.9 Z" fill="#fff" stroke="#222" stroke-width="0.7" />
<path d="M213.6,118.1 L213.1,123.5 L215.9,125.1 L216.3,119.7 Z" fill="#fff" stroke="#222" stroke-width="0.6" />
<path d="M245.7,104.1 L259.6,107.1 L244.3,98.5 L230.4,95.4 Z" fill="#fff" stroke="#222" stroke-width="0.7" />
<path d="M247.6,101.6 L232.3,92.9 L235.8,109.9 L251.1,118.5 Z" fill="#fff" stroke="#222" stroke-width="0.7" />
<path d="M235.9,84.6 L252.0,71.9 L249.7,60.9 L233.6,73.5 Z" fill="#fff" stroke="#222" stroke-width="0.7" />
<path d="M207.5,65.4 L207.2,65.3 L206.8,65.1 L206.4,65.0 L206.0,65.0 L205.6,65.0 L205.2,65.0 L204.7,65.0 L204.3,65.1 L203.8,65.3 L203.3,65.4 L202.9,65.7 L202.4,65.9 L201.9,66.2 L201.5,66.5 L201.0,66.9 L200.6,67.2 L200.1,67.7 L199.7,68.1 L199.3,68.6 L198.8,69.0 L198.5,69.6 L198.1,70.1 L197.7,70.6 L197.4,71.2 L197.1,71.8 L196.8,72.4 L196.5,73.0 L196.3,73.6 L196.1,74.2 L195.9,74.8 L195.8,75.4 L195.6,75.9 L195.5,76.5 L195.5,77.1 L195.4,77.7 L195.4,78.2 L195.5,78.7 L195.5,79.3 L195.6,79.7 L195.7,80.2 L195.9,80.7 L196.1,81.1 L196.3,81.4 L196.5,81.8 L196.8,82.1 L197.1,82.4 L197.4,82.6 L197.7,82.9 L217.2,93.9 L217.5,94.1 L217.9,94.2 L218.3,94.3 L218.7,94.4 L219.1,94.4 L219.6,94.4 L220.0,94.3 L220.5,94.2 L220.9,94.1 L221.4,93.9 L221.9,93.7 L222.3,93.4 L222.8,93.1 L223.3,92.8 L223.7,92.5 L224.2,92.1 L224.6,91.7 L225.1,91.2 L225.5,90.8 L225.9,90.3 L226.3,89.8 L226.6,89.2 L227.0,88.7 L227.3,88.1 L227.6,87.6 L227.9,87.0 L228.2,86.4 L228.4,85.8 L228.6,85.2 L228.8,84.6 L229.0,84.0 L229.1,83.4 L229.2,82.8 L229.3,82.2 L229.3,81.7 L229.3,81.1 L229.3,80.6 L229.2,80.1 L229.1,79.6 L229.0,79.1 L228.8,78.7 L228.7,78.3 L228.5,77.9 L228.2,77.5 L228.0,77.2 L227.7,76.9 L227.4,76.7 L227.0,76.5 Z" fill="#fff" stroke="#222" stroke-width="0.8"/>
<path d="M267.3,80.6 L265.0,69.6 L249.7,60.9 L252.0,71.9 Z" fill="#fff" stroke="#222" stroke-width="0.7" />
<path d="M209.4,115.2 L213.6,118.1 L216.3,119.7 L212.2,116.8 Z" fill="#fff" stroke="#222" stroke-width="0.6" />
<path d="M251.2,93.2 L267.3,80.6 L252.0,71.9 L235.9,84.6 Z" fill="#fff" stroke="#222" stroke-width="0.7" />
<path d="M249.7,53.6 L249.1,53.3 L248.3,53.5 L247.6,54.2 L247.1,55.1 L247.0,56.0 L247.3,56.7 L247.9,57.0 L248.6,56.9 L249.4,56.2 L249.9,55.3 L250.0,54.3 Z" fill="#fff" stroke="#222" stroke-width="0.5" />
<path d="M247.4,49.0 L244.6,49.8 L247.4,51.4 L250.2,50.6 Z" fill="#fff" stroke="#222" stroke-width="0.6" />
<path d="M244.6,49.8 L240.8,54.4 L243.6,56.0 L247.4,51.4 Z" fill="#fff" stroke="#222" stroke-width="0.6" />
<path d="M214.9,98.5 L206.0,119.4 L215.0,121.4 L224.0,100.5 Z" fill="#fff" stroke="#222" stroke-width="0.7" />
<path d="M239.3,109.1 L224.0,100.5 L215.0,121.4 L230.3,130.1 Z" fill="#fff" stroke="#222" stroke-width="0.7" />
<path d="M240.8,54.4 L235.1,55.2 L237.9,56.8 L243.6,56.0 Z" fill="#fff" stroke="#222" stroke-width="0.6" />
<path d="M248.0,68.4 L248.2,61.3 L251.6,56.2 L252.1,52.7 L250.2,50.6 L247.4,51.4 L243.6,56.0 L237.9,56.8 L237.6,56.7 L233.4,53.8 L233.9,48.5 L232.3,46.6 L229.0,47.7 L226.6,50.8 L225.5,56.4 L220.1,62.3 L219.7,62.6 L213.7,65.6 L210.9,63.1 L208.1,64.0 L205.4,67.7 L204.8,71.2 L207.1,74.5 L205.1,82.1 L204.9,82.7 L200.5,89.8 L196.1,91.6 L193.8,94.7 L193.2,98.9 L194.8,100.7 L199.1,99.8 L201.7,104.7 L201.8,105.1 L201.6,112.2 L198.2,117.3 L197.7,120.8 L199.6,123.0 L202.4,122.1 L206.2,117.5 L211.9,116.7 L212.2,116.8 L216.3,119.7 L215.9,125.1 L217.5,126.9 L220.8,125.8 L223.2,122.7 L224.3,117.2 L229.7,111.2 L230.1,110.9 L236.1,107.9 L238.9,110.4 L241.7,109.5 L244.4,105.8 L244.9,102.3 L242.7,99.0 L244.7,91.4 L244.9,90.8 L249.3,83.7 L253.7,81.9 L256.0,78.8 L256.6,74.6 L255.0,72.8 L250.7,73.7 L248.1,68.8 Z" fill="#fff" stroke="#222" stroke-width="0.8" />
<path d="M221.3,128.1 L230.3,130.1 L215.0,121.4 L206.0,119.4 Z" fill="#fff" stroke="#222" stroke-width="0.7" />
<path d="M235.1,55.2 L234.8,55.1 L237.6,56.7 L237.9,56.8 Z" fill="#fff" stroke="#222" stroke-width="0.6" />
<path d="M234.9,75.0 L243.8,54.1 L234.8,52.1 L225.8,73.0 Z" fill="#fff" stroke="#222" stroke-width="0.7" />
<path d="M250.2,83.7 L259.1,62.8 L243.8,54.1 L234.9,75.0 Z" fill="#fff" stroke="#222" stroke-width="0.7" />
<path d="M194.9,119.2 L196.8,121.4 L199.6,123.0 L197.7,120.8 Z" fill="#fff" stroke="#222" stroke-width="0.6" />
<path d="M200.1,119.9 L200.7,120.2 L201.5,120.0 L202.2,119.3 L202.7,118.4 L202.7,117.5 L202.5,116.8 L201.9,116.5 L201.1,116.7 L200.4,117.3 L199.9,118.2 L199.8,119.2 Z" fill="#fff" stroke="#222" stroke-width="0.5" />
<path d="M232.3,73.7 L231.8,73.4 L231.2,73.2 L230.6,73.1 L230.0,73.0 L229.4,73.0 L228.7,73.0 L228.1,73.1 L227.4,73.2 L226.7,73.4 L226.0,73.7 L225.3,74.0 L224.6,74.4 L223.9,74.8 L223.2,75.3 L222.5,75.8 L221.8,76.4 L221.1,77.0 L220.5,77.7 L219.9,78.4 L219.2,79.1 L218.7,79.9 L218.1,80.7 L217.6,81.5 L217.1,82.3 L216.6,83.2 L216.2,84.1 L215.8,85.0 L215.4,85.9 L215.1,86.8 L214.8,87.7 L214.6,88.6 L214.4,89.4 L214.3,90.3 L214.2,91.2 L214.1,92.0 L214.1,92.9 L214.2,93.7 L214.3,94.4 L214.4,95.2 L214.6,95.8 L214.8,96.5 L215.1,97.1 L215.4,97.7 L215.7,98.2 L216.1,98.7 L216.6,99.1 L217.0,99.5 L217.5,99.8 L235.6,110.1 L236.1,110.3 L236.7,110.5 L237.3,110.7 L237.9,110.8 L238.5,110.8 L239.2,110.8 L239.8,110.7 L240.5,110.5 L241.2,110.3 L241.9,110.1 L242.6,109.7 L243.3,109.4 L244.0,108.9 L244.7,108.5 L245.4,107.9 L246.1,107.4 L246.8,106.7 L247.4,106.1 L248.0,105.4 L248.7,104.7 L249.2,103.9 L249.8,103.1 L250.3,102.3 L250.8,101.4 L251.3,100.6 L251.7,99.7 L252.1,98.8 L252.5,97.9 L252.8,97.0 L253.1,96.1 L253.3,95.2 L253.5,94.3 L253.6,93.4 L253.7,92.6 L253.8,91.7 L253.8,90.9 L253.7,90.1 L253.6,89.3 L253.5,88.6 L253.3,87.9 L253.1,87.3 L252.8,86.6 L252.5,86.1 L252.2,85.5 L251.8,85.1 L251.3,84.6 L250.9,84.3 L250.4,83.9 Z" fill="#fff" stroke="#222" stroke-width="0.8"/>
<path d="M195.4,115.7 L194.9,119.2 L197.7,120.8 L198.2,117.3 Z" fill="#fff" stroke="#222" stroke-width="0.6" />
<path d="M250.2,83.7 L234.9,75.0 L225.8,73.0 L241.1,81.7 Z" fill="#fff" stroke="#222" stroke-width="0.7" />
<path d="M198.8,110.6 L195.4,115.7 L198.2,117.3 L201.6,112.2 Z" fill="#fff" stroke="#222" stroke-width="0.6" />
<path d="M291.0,131.6 L297.4,120.3 L279.3,110.1 L272.9,121.4 Z" fill="#fff" stroke="#222" stroke-width="0.7" />
<path d="M261.4,114.9 L272.9,121.4 L279.3,110.1 L267.8,103.6 Z" fill="#fff" stroke="#222" stroke-width="0.7" />
<path d="M199.0,103.5 L198.8,110.6 L201.6,112.2 L201.8,105.1 Z" fill="#fff" stroke="#222" stroke-width="0.6" />
<path d="M213.9,88.9 L197.8,101.6 L200.1,112.6 L216.2,100.0 Z" fill="#fff" stroke="#222" stroke-width="0.7" />
<path d="M229.3,97.6 L213.9,88.9 L216.2,100.0 L231.5,108.6 Z" fill="#fff" stroke="#222" stroke-width="0.7" />
<path d="M231.5,108.6 L216.2,100.0 L200.1,112.6 L215.4,121.3 Z" fill="#fff" stroke="#222" stroke-width="0.7" />
<path d="M198.9,103.1 L199.0,103.5 L201.8,105.1 L201.7,104.7 Z" fill="#fff" stroke="#222" stroke-width="0.6" />
<path d="M247.1,83.2 L246.6,83.0 L246.1,82.8 L245.6,82.7 L245.0,82.6 L244.4,82.6 L243.8,82.6 L243.2,82.7 L242.5,82.8 L241.9,83.0 L241.2,83.2 L240.6,83.5 L239.9,83.9 L239.3,84.3 L238.6,84.7 L238.0,85.2 L237.3,85.7 L236.7,86.3 L236.1,86.9 L235.5,87.6 L234.9,88.3 L234.4,89.0 L233.9,89.7 L233.4,90.5 L232.9,91.3 L232.5,92.1 L232.1,92.9 L231.7,93.7 L231.4,94.6 L231.1,95.4 L230.8,96.3 L230.6,97.1 L230.4,97.9 L230.3,98.8 L230.2,99.6 L230.2,100.3 L230.2,101.1 L230.2,101.9 L230.3,102.6 L230.4,103.3 L230.6,103.9 L230.8,104.5 L231.0,105.1 L231.3,105.6 L231.7,106.1 L232.0,106.6 L232.4,107.0 L232.9,107.3 L233.3,107.6 L236.1,109.2 L236.6,109.4 L237.1,109.6 L237.7,109.8 L238.2,109.8 L238.8,109.9 L239.4,109.8 L240.1,109.8 L240.7,109.6 L241.3,109.4 L242.0,109.2 L242.6,108.9 L243.3,108.5 L244.0,108.1 L244.6,107.7 L245.2,107.2 L245.9,106.7 L246.5,106.1 L247.1,105.5 L247.7,104.8 L248.3,104.1 L248.8,103.4 L249.3,102.7 L249.8,101.9 L250.3,101.1 L250.7,100.3 L251.1,99.5 L251.5,98.7 L251.8,97.8 L252.1,97.0 L252.4,96.2 L252.6,95.3 L252.8,94.5 L252.9,93.7 L253.0,92.9 L253.0,92.1 L253.0,91.3 L253.0,90.6 L252.9,89.9 L252.8,89.2 L252.6,88.5 L252.4,87.9 L252.2,87.3 L251.9,86.8 L251.6,86.3 L251.2,85.9 L250.8,85.5 L250.4,85.1 L249.9,84.8 Z" fill="#fff" stroke="#222" stroke-width="0.8"/>
<path d="M254.7,118.2 L256.5,135.5 L265.8,129.3 L264.0,112.0 Z" fill="#fff" stroke="#222" stroke-width="0.7" />
<path d="M266.6,107.2 L282.4,99.9 L283.0,88.8 L267.2,96.1 Z" fill="#fff" stroke="#222" stroke-width="0.7" />
<path d="M274.6,145.7 L283.9,139.5 L265.8,129.3 L256.5,135.5 Z" fill="#fff" stroke="#222" stroke-width="0.7" />
<path d="M300.5,110.2 L301.1,99.0 L283.0,88.8 L282.4,99.9 Z" fill="#fff" stroke="#222" stroke-width="0.7" />
<path d="M243.4,81.0 L228.0,72.3 L217.5,80.6 L232.8,89.2 Z" fill="#fff" stroke="#222" stroke-width="0.7" />
<path d="M238.0,106.2 L238.7,106.5 L239.6,106.7 L240.5,106.7 L241.4,106.5 L242.4,106.2 L243.4,105.7 L244.3,105.1 L245.3,104.3 L246.2,103.4 L247.1,102.4 L247.9,101.3 L248.6,100.2 L249.3,99.0 L249.8,97.7 L250.2,96.4 L250.5,95.2 L250.6,94.0 L250.7,92.8 L250.6,91.7 L250.4,90.7 L250.0,89.8 L249.6,89.1 L249.0,88.4 L248.3,87.9 L247.5,87.6 L246.7,87.4 L245.8,87.4 L244.9,87.6 L243.9,87.9 L242.9,88.4 L241.9,89.1 L241.0,89.8 L240.1,90.7 L239.2,91.7 L238.4,92.8 L237.7,94.0 L237.0,95.2 L236.5,96.4 L236.1,97.7 L235.8,99.0 L235.6,100.2 L235.6,101.3 L235.7,102.4 L235.9,103.4 L236.3,104.3 L236.7,105.1 L237.3,105.7 Z" fill="#fff" stroke="#222" stroke-width="0.6"/>
<path d="M196.3,98.2 L198.9,103.1 L201.7,104.7 L199.1,99.8 Z" fill="#fff" stroke="#222" stroke-width="0.6" />
<path d="M228.0,72.3 L224.6,55.4 L214.0,63.6 L217.5,80.6 Z" fill="#fff" stroke="#222" stroke-width="0.7" />
<path d="M236.1,109.2 L237.1,109.6 L238.2,109.8 L239.4,109.8 L240.7,109.6 L242.0,109.2 L243.3,108.5 L244.6,107.7 L245.9,106.7 L247.1,105.5 L248.3,104.1 L249.3,102.7 L250.3,101.1 L251.1,99.5 L251.8,97.8 L252.4,96.2 L252.8,94.5 L253.0,92.9 L253.0,91.3 L252.9,89.9 L252.6,88.5 L252.2,87.3 L251.6,86.3 L250.8,85.5 L249.9,84.8 L248.9,84.4 L247.8,84.2 L246.6,84.2 L245.3,84.4 L244.0,84.8 L242.7,85.5 L241.4,86.3 L240.1,87.3 L238.9,88.5 L237.7,89.9 L236.7,91.3 L235.7,92.9 L234.9,94.5 L234.2,96.2 L233.6,97.8 L233.2,99.5 L233.0,101.1 L233.0,102.7 L233.1,104.1 L233.4,105.5 L233.8,106.7 L234.4,107.7 L235.2,108.5 Z" fill="#fff" stroke="#222" stroke-width="0.8"/>
<path d="M234.7,86.8 L219.4,78.1 L213.5,91.7 L228.9,100.4 Z" fill="#fff" stroke="#222" stroke-width="0.7" />
<path d="M229.5,45.1 L226.2,46.1 L229.0,47.7 L232.3,46.6 Z" fill="#fff" stroke="#222" stroke-width="0.6" />
<path d="M230.3,49.3 L229.4,49.9 L228.8,50.7 L228.5,51.7 L228.6,52.5 L229.1,52.9 L229.8,52.9 L230.6,52.4 L231.2,51.6 L231.6,50.7 L231.5,49.8 L231.1,49.3 Z" fill="#fff" stroke="#222" stroke-width="0.5" />
<path d="M223.9,49.2 L222.7,54.8 L225.5,56.4 L226.6,50.8 Z" fill="#fff" stroke="#222" stroke-width="0.6" />
<path d="M222.7,54.8 L217.3,60.7 L220.1,62.3 L225.5,56.4 Z" fill="#fff" stroke="#222" stroke-width="0.6" />
<path d="M282.1,122.2 L264.0,112.0 L265.8,129.3 L283.9,139.5 Z" fill="#fff" stroke="#222" stroke-width="0.7" />
<path d="M284.8,117.5 L300.5,110.2 L282.4,99.9 L266.6,107.2 Z" fill="#fff" stroke="#222" stroke-width="0.7" />
<path d="M226.2,46.1 L223.9,49.2 L226.6,50.8 L229.0,47.7 Z" fill="#fff" stroke="#222" stroke-width="0.6" />
<path d="M243.4,81.0 L239.9,64.1 L224.6,55.4 L228.0,72.3 Z" fill="#fff" stroke="#222" stroke-width="0.7" />
<path d="M217.3,60.7 L216.9,61.0 L219.7,62.6 L220.1,62.3 Z" fill="#fff" stroke="#222" stroke-width="0.6" />
<path d="M219.4,78.1 L205.5,75.1 L199.7,88.7 L213.5,91.7 Z" fill="#fff" stroke="#222" stroke-width="0.7" />
<path d="M216.9,61.0 L210.9,64.0 L213.7,65.6 L219.7,62.6 Z" fill="#fff" stroke="#222" stroke-width="0.6" />
<path d="M202.3,80.6 L202.1,81.1 L204.9,82.7 L205.1,82.1 Z" fill="#fff" stroke="#222" stroke-width="0.6" />
<path d="M202.1,81.1 L197.7,88.2 L200.5,89.8 L204.9,82.7 Z" fill="#fff" stroke="#222" stroke-width="0.6" />
<path d="M247.4,89.2 L247.1,89.0 L246.8,88.9 L246.4,88.8 L246.1,88.7 L245.7,88.7 L245.3,88.7 L244.9,88.8 L244.5,88.9 L244.1,89.0 L243.7,89.2 L243.2,89.4 L242.8,89.6 L242.4,89.8 L242.0,90.1 L241.6,90.4 L241.1,90.8 L240.7,91.2 L240.4,91.5 L240.0,92.0 L239.6,92.4 L239.3,92.9 L238.9,93.3 L238.6,93.8 L238.3,94.3 L238.0,94.9 L237.8,95.4 L237.5,95.9 L237.3,96.5 L237.1,97.0 L237.0,97.5 L236.8,98.1 L236.7,98.6 L236.6,99.1 L236.6,99.7 L236.5,100.2 L236.5,100.7 L236.6,101.1 L236.6,101.6 L236.7,102.0 L236.8,102.5 L236.9,102.8 L237.1,103.2 L237.3,103.6 L237.5,103.9 L237.7,104.2 L238.0,104.4 L238.3,104.6 L238.6,104.8 L259.5,116.7 L259.8,116.8 L260.1,116.9 L260.5,117.0 L260.8,117.1 L261.2,117.1 L261.6,117.1 L262.0,117.0 L262.4,116.9 L262.8,116.8 L263.2,116.7 L263.7,116.5 L264.1,116.2 L264.5,116.0 L264.9,115.7 L265.3,115.4 L265.7,115.0 L266.1,114.7 L266.5,114.3 L266.9,113.9 L267.3,113.4 L267.6,113.0 L268.0,112.5 L268.3,112.0 L268.6,111.5 L268.9,111.0 L269.1,110.4 L269.4,109.9 L269.6,109.4 L269.8,108.8 L269.9,108.3 L270.1,107.7 L270.2,107.2 L270.3,106.7 L270.3,106.2 L270.3,105.7 L270.3,105.2 L270.3,104.7 L270.3,104.2 L270.2,103.8 L270.1,103.4 L269.9,103.0 L269.8,102.6 L269.6,102.3 L269.4,101.9 L269.2,101.7 L268.9,101.4 L268.6,101.2 L268.3,101.0 Z" fill="#fff" stroke="#222" stroke-width="0.8"/>
<path d="M228.9,100.4 L213.5,91.7 L199.7,88.7 L215.0,97.4 Z" fill="#fff" stroke="#222" stroke-width="0.7" />
<path d="M190.4,97.3 L192.0,99.2 L194.8,100.7 L193.2,98.9 Z" fill="#fff" stroke="#222" stroke-width="0.6" />
<path d="M249.7,115.7 L241.0,135.6 L248.8,137.5 L257.5,117.5 Z" fill="#fff" stroke="#222" stroke-width="0.7" />
<path d="M268.0,98.9 L280.7,81.1 L275.1,75.4 L262.4,93.1 Z" fill="#fff" stroke="#222" stroke-width="0.7" />
<path d="M204.3,72.9 L202.3,80.6 L205.1,82.1 L207.1,74.5 Z" fill="#fff" stroke="#222" stroke-width="0.6" />
<path d="M197.7,88.2 L193.3,90.1 L196.1,91.6 L200.5,89.8 Z" fill="#fff" stroke="#222" stroke-width="0.6" />
<path d="M195.2,96.3 L195.3,97.2 L195.7,97.8 L196.4,97.8 L197.1,97.2 L197.7,96.3 L198.1,95.4 L198.0,94.5 L197.6,93.9 L197.0,93.8 L196.2,94.3 L195.6,95.2 Z" fill="#fff" stroke="#222" stroke-width="0.5" />
<path d="M191.0,93.2 L190.4,97.3 L193.2,98.9 L193.8,94.7 Z" fill="#fff" stroke="#222" stroke-width="0.6" />
<path d="M275.6,127.7 L257.5,117.5 L248.8,137.5 L266.9,147.7 Z" fill="#fff" stroke="#222" stroke-width="0.7" />
<path d="M286.1,109.1 L298.8,91.4 L280.7,81.1 L268.0,98.9 Z" fill="#fff" stroke="#222" stroke-width="0.7" />
<path d="M193.3,90.1 L191.0,93.2 L193.8,94.7 L196.1,91.6 Z" fill="#fff" stroke="#222" stroke-width="0.6" />
<path d="M202.1,69.6 L204.3,72.9 L207.1,74.5 L204.8,71.2 Z" fill="#fff" stroke="#222" stroke-width="0.6" />
<path d="M208.1,61.5 L205.3,62.5 L208.1,64.0 L210.9,63.1 Z" fill="#fff" stroke="#222" stroke-width="0.6" />
<path d="M207.7,67.0 L207.2,68.1 L207.0,69.1 L207.3,69.7 L207.9,69.9 L208.7,69.6 L209.4,68.9 L209.9,67.9 L210.1,67.0 L209.9,66.3 L209.3,66.0 L208.5,66.2 Z" fill="#fff" stroke="#222" stroke-width="0.5" />
<path d="M259.1,145.9 L266.9,147.7 L248.8,137.5 L241.0,135.6 Z" fill="#fff" stroke="#222" stroke-width="0.7" />
<path d="M298.8,91.4 L293.2,85.6 L275.1,75.4 L280.7,81.1 Z" fill="#fff" stroke="#222" stroke-width="0.7" />
<path d="M202.6,66.1 L202.1,69.6 L204.8,71.2 L205.4,67.7 Z" fill="#fff" stroke="#222" stroke-width="0.6" />
<path d="M205.3,62.5 L202.6,66.1 L205.4,67.7 L208.1,64.0 Z" fill="#fff" stroke="#222" stroke-width="0.6" />
<path d="M264.8,93.7 L268.5,73.9 L259.4,76.2 L255.8,96.0 Z" fill="#fff" stroke="#222" stroke-width="0.7" />
<path d="M248.7,108.4 L233.6,121.8 L236.3,130.8 L251.4,117.4 Z" fill="#fff" stroke="#222" stroke-width="0.7" />
<path d="M282.9,103.9 L286.6,84.1 L268.5,73.9 L264.8,93.7 Z" fill="#fff" stroke="#222" stroke-width="0.7" />
<path d="M269.5,127.7 L251.4,117.4 L236.3,130.8 L254.4,141.0 Z" fill="#fff" stroke="#222" stroke-width="0.7" />
<path d="M258.6,94.1 L251.5,81.4 L243.2,90.8 L250.3,103.4 Z" fill="#fff" stroke="#222" stroke-width="0.7" />
<path d="M252.3,99.9 L237.8,100.4 L234.1,112.3 L248.6,111.9 Z" fill="#fff" stroke="#222" stroke-width="0.7" />
<path d="M276.7,104.3 L269.6,91.7 L251.5,81.4 L258.6,94.1 Z" fill="#fff" stroke="#222" stroke-width="0.7" />
<path d="M266.7,122.1 L248.6,111.9 L234.1,112.3 L252.2,122.6 Z" fill="#fff" stroke="#222" stroke-width="0.7" />
<path d="M280.2,153.6 L284.9,153.7 L285.4,157.7 L287.1,159.3 L289.7,157.8 L291.2,154.3 L291.3,149.9 L295.7,144.5 L295.7,144.5 L300.8,140.7 L303.4,142.4 L306.0,141.9 L308.0,138.9 L307.9,135.8 L305.9,133.3 L307.9,126.7 L307.9,126.7 L311.4,120.5 L315.0,119.3 L317.7,116.8 L318.3,113.5 L316.6,112.0 L313.1,112.3 L312.0,107.1 L312.0,107.1 L312.7,100.8 L316.0,97.1 L317.5,93.6 L316.6,91.3 L313.9,91.9 L310.4,94.9 L306.5,93.1 L306.5,93.1 L304.0,89.1 L305.8,84.4 L305.7,81.2 L303.5,80.7 L300.9,83.3 L298.6,87.8 L293.5,90.1 L293.5,90.1 L288.9,89.9 L288.3,86.0 L286.7,84.3 L284.1,85.8 L282.6,89.4 L282.4,93.7 L278.0,99.2 L278.0,99.2 L272.9,102.9 L270.4,101.2 L267.7,101.7 L265.7,104.7 L265.9,107.8 L267.9,110.3 L265.9,116.9 L265.9,116.9 L262.3,123.2 L258.7,124.3 L256.1,126.8 L255.4,130.1 L257.2,131.6 L260.6,131.3 L261.8,136.5 L261.8,136.5 L261.1,142.9 L257.8,146.5 L256.2,150.0 L257.1,152.3 L259.8,151.7 L263.3,148.7 L267.3,150.5 L267.3,150.5 L269.7,154.5 L268.0,159.2 L268.1,162.4 L270.2,162.9 L272.8,160.4 L275.1,155.8 L280.2,153.6 Z" fill="#fff" stroke="#222" stroke-width="0.8"/>
<path d="M278.8,126.1 L286.2,157.3 M280.3,125.2 L290.4,154.8 M283.1,122.5 L304.0,141.6 M284.3,120.7 L307.3,136.7 M285.9,117.0 L315.3,118.3 M286.3,115.1 L316.4,113.0 M286.2,111.7 L315.7,96.4 M285.6,110.3 L314.3,92.6 M283.8,108.6 L305.1,84.2 M282.5,108.3 L301.6,83.3 M279.6,108.9 L287.6,86.3 M278.1,109.8 L283.4,88.8 M275.3,112.5 L269.7,102.1 M274.2,114.2 L266.4,106.9 M272.5,118.0 L258.4,125.4 M272.1,119.9 L257.3,130.7 M272.3,123.3 L258.0,147.3 M272.8,124.7 L259.5,151.1 M274.7,126.4 L268.6,159.5 M275.9,126.7 L272.1,160.3" stroke="#333" stroke-width="0.6" fill="none"/>
<ellipse cx="288.3" cy="155.7" rx="1.3" ry="1.3" fill="#fff" stroke="#333" stroke-width="0.5"/><ellipse cx="305.5" cy="139.0" rx="1.3" ry="1.3" fill="#fff" stroke="#333" stroke-width="0.5"/><ellipse cx="315.6" cy="115.7" rx="1.3" ry="1.3" fill="#fff" stroke="#333" stroke-width="0.5"/><ellipse cx="314.7" cy="94.7" rx="1.3" ry="1.3" fill="#fff" stroke="#333" stroke-width="0.5"/><ellipse cx="303.2" cy="84.1" rx="1.3" ry="1.3" fill="#fff" stroke="#333" stroke-width="0.5"/><ellipse cx="285.5" cy="87.9" rx="1.3" ry="1.3" fill="#fff" stroke="#333" stroke-width="0.5"/><ellipse cx="268.2" cy="104.6" rx="1.3" ry="1.3" fill="#fff" stroke="#333" stroke-width="0.5"/><ellipse cx="258.1" cy="127.9" rx="1.3" ry="1.3" fill="#fff" stroke="#333" stroke-width="0.5"/><ellipse cx="259.0" cy="148.9" rx="1.3" ry="1.3" fill="#fff" stroke="#333" stroke-width="0.5"/><ellipse cx="270.5" cy="159.5" rx="1.3" ry="1.3" fill="#fff" stroke="#333" stroke-width="0.5"/>
<path d="M273.8,127.1 L274.6,127.4 L275.5,127.6 L276.4,127.6 L277.4,127.4 L278.4,127.1 L279.4,126.6 L280.5,125.9 L281.5,125.1 L282.4,124.2 L283.4,123.1 L284.2,122.0 L285.0,120.7 L285.6,119.5 L286.2,118.1 L286.6,116.8 L286.9,115.5 L287.1,114.2 L287.1,113.0 L287.0,111.9 L286.8,110.8 L286.4,109.9 L285.9,109.1 L285.3,108.4 L284.6,107.9 L283.8,107.6 L283.0,107.4 L282.0,107.4 L281.0,107.6 L280.0,107.9 L279.0,108.4 L277.9,109.1 L276.9,109.9 L276.0,110.8 L275.1,111.9 L274.2,113.0 L273.5,114.2 L272.8,115.5 L272.3,116.8 L271.8,118.1 L271.5,119.5 L271.4,120.7 L271.3,122.0 L271.4,123.1 L271.6,124.2 L272.0,125.1 L272.5,125.9 L273.1,126.6 Z" fill="#fff" stroke="#222" stroke-width="0.8"/>
<path d="M283.4,110.1 L283.1,109.9 L282.8,109.8 L282.4,109.7 L282.1,109.7 L281.7,109.7 L281.4,109.7 L281.0,109.7 L280.6,109.8 L280.2,109.9 L279.8,110.1 L279.4,110.3 L279.0,110.5 L278.6,110.7 L278.2,111.0 L277.8,111.3 L277.5,111.6 L277.1,112.0 L276.7,112.3 L276.3,112.7 L276.0,113.1 L275.7,113.6 L275.4,114.0 L275.1,114.5 L274.8,115.0 L274.5,115.5 L274.3,116.0 L274.0,116.5 L273.8,117.0 L273.7,117.5 L273.5,118.0 L273.4,118.5 L273.3,119.0 L273.2,119.5 L273.1,120.0 L273.1,120.5 L273.1,120.9 L273.1,121.4 L273.2,121.8 L273.3,122.2 L273.4,122.6 L273.5,123.0 L273.6,123.4 L273.8,123.7 L274.0,124.0 L274.2,124.3 L274.5,124.5 L274.7,124.7 L275.0,124.9 L301.5,139.9 L301.8,140.0 L302.1,140.1 L302.4,140.2 L302.8,140.3 L303.1,140.3 L303.5,140.3 L303.9,140.2 L304.3,140.1 L304.7,140.0 L305.0,139.9 L305.4,139.7 L305.8,139.5 L306.2,139.2 L306.6,139.0 L307.0,138.7 L307.4,138.3 L307.8,138.0 L308.2,137.6 L308.5,137.2 L308.9,136.8 L309.2,136.4 L309.5,135.9 L309.8,135.4 L310.1,135.0 L310.4,134.5 L310.6,134.0 L310.8,133.5 L311.0,133.0 L311.2,132.5 L311.4,131.9 L311.5,131.4 L311.6,130.9 L311.7,130.4 L311.7,129.9 L311.8,129.5 L311.8,129.0 L311.7,128.5 L311.7,128.1 L311.6,127.7 L311.5,127.3 L311.4,126.9 L311.2,126.6 L311.1,126.3 L310.9,126.0 L310.6,125.7 L310.4,125.4 L310.1,125.2 L309.9,125.1 Z" fill="#fff" stroke="#222" stroke-width="0.8"/>
<path d="M310.4,124.1 L310.1,123.9 L309.7,123.8 L309.3,123.7 L308.9,123.6 L308.5,123.6 L308.1,123.6 L307.7,123.7 L307.3,123.8 L306.8,123.9 L306.4,124.1 L305.9,124.3 L305.5,124.5 L305.0,124.8 L304.6,125.1 L304.1,125.5 L303.7,125.8 L303.3,126.2 L302.8,126.6 L302.4,127.1 L302.0,127.6 L301.7,128.0 L301.3,128.6 L301.0,129.1 L300.7,129.6 L300.4,130.2 L300.1,130.7 L299.8,131.3 L299.6,131.9 L299.4,132.5 L299.2,133.0 L299.1,133.6 L299.0,134.2 L298.9,134.7 L298.8,135.3 L298.8,135.8 L298.8,136.4 L298.8,136.9 L298.9,137.4 L298.9,137.8 L299.1,138.3 L299.2,138.7 L299.4,139.1 L299.6,139.5 L299.8,139.8 L300.1,140.1 L300.3,140.4 L300.6,140.6 L300.9,140.8 L305.8,143.6 L306.2,143.7 L306.5,143.9 L306.9,144.0 L307.3,144.0 L307.7,144.0 L308.1,144.0 L308.5,144.0 L309.0,143.9 L309.4,143.7 L309.8,143.6 L310.3,143.4 L310.7,143.1 L311.2,142.9 L311.6,142.5 L312.1,142.2 L312.5,141.8 L312.9,141.5 L313.4,141.0 L313.8,140.6 L314.2,140.1 L314.5,139.6 L314.9,139.1 L315.2,138.6 L315.6,138.0 L315.9,137.5 L316.1,136.9 L316.4,136.4 L316.6,135.8 L316.8,135.2 L317.0,134.6 L317.1,134.1 L317.2,133.5 L317.3,132.9 L317.4,132.4 L317.4,131.8 L317.4,131.3 L317.4,130.8 L317.3,130.3 L317.3,129.8 L317.1,129.4 L317.0,129.0 L316.8,128.6 L316.6,128.2 L316.4,127.9 L316.2,127.6 L315.9,127.3 L315.6,127.1 L315.3,126.9 Z" fill="#fff" stroke="#222" stroke-width="0.8"/>
<path d="M315.3,126.9 L314.9,126.7 L314.6,126.6 L314.2,126.5 L313.8,126.4 L313.4,126.4 L313.0,126.4 L312.6,126.5 L312.1,126.6 L311.7,126.7 L311.2,126.9 L310.8,127.1 L310.3,127.3 L309.9,127.6 L309.4,127.9 L309.0,128.2 L308.6,128.6 L308.1,129.0 L307.7,129.4 L307.3,129.8 L306.9,130.3 L306.5,130.8 L306.2,131.3 L305.8,131.8 L305.5,132.4 L305.2,132.9 L305.0,133.5 L304.7,134.1 L304.5,134.6 L304.3,135.2 L304.1,135.8 L304.0,136.4 L303.8,136.9 L303.7,137.5 L303.7,138.0 L303.7,138.6 L303.7,139.1 L303.7,139.6 L303.7,140.1 L303.8,140.6 L303.9,141.0 L304.1,141.5 L304.3,141.8 L304.5,142.2 L304.7,142.5 L304.9,142.9 L305.2,143.1 L305.5,143.4 L305.8,143.6 L310.7,146.3 L311.0,146.5 L311.4,146.6 L311.8,146.7 L312.1,146.8 L312.5,146.8 L313.0,146.8 L313.4,146.7 L313.8,146.6 L314.3,146.5 L314.7,146.3 L315.2,146.1 L315.6,145.9 L316.1,145.6 L316.5,145.3 L317.0,145.0 L317.4,144.6 L317.8,144.2 L318.2,143.8 L318.6,143.3 L319.0,142.9 L319.4,142.4 L319.8,141.9 L320.1,141.3 L320.4,140.8 L320.7,140.3 L321.0,139.7 L321.3,139.1 L321.5,138.5 L321.7,138.0 L321.9,137.4 L322.0,136.8 L322.1,136.2 L322.2,135.7 L322.3,135.1 L322.3,134.6 L322.3,134.1 L322.3,133.6 L322.2,133.1 L322.1,132.6 L322.0,132.2 L321.9,131.7 L321.7,131.3 L321.5,131.0 L321.3,130.6 L321.0,130.3 L320.8,130.1 L320.5,129.8 L320.1,129.6 Z" fill="#fff" stroke="#222" stroke-width="0.8"/>
<path d="M320.2,129.4 L319.9,129.3 L319.5,129.1 L319.1,129.0 L318.8,129.0 L318.3,129.0 L317.9,129.0 L317.5,129.0 L317.0,129.1 L316.6,129.3 L316.1,129.4 L315.7,129.6 L315.2,129.9 L314.7,130.2 L314.3,130.5 L313.8,130.8 L313.4,131.2 L313.0,131.6 L312.5,132.0 L312.1,132.5 L311.7,133.0 L311.3,133.5 L311.0,134.0 L310.6,134.5 L310.3,135.1 L310.0,135.6 L309.7,136.2 L309.5,136.8 L309.2,137.4 L309.0,138.0 L308.8,138.6 L308.7,139.1 L308.6,139.7 L308.5,140.3 L308.4,140.9 L308.4,141.4 L308.4,142.0 L308.4,142.5 L308.5,143.0 L308.6,143.5 L308.7,143.9 L308.8,144.3 L309.0,144.7 L309.2,145.1 L309.4,145.5 L309.7,145.8 L310.0,146.0 L310.3,146.3 L310.6,146.5 L318.9,151.2 L319.3,151.4 L319.7,151.5 L320.0,151.6 L320.4,151.7 L320.8,151.7 L321.3,151.7 L321.7,151.6 L322.1,151.5 L322.6,151.4 L323.1,151.2 L323.5,151.0 L324.0,150.8 L324.4,150.5 L324.9,150.2 L325.3,149.8 L325.8,149.5 L326.2,149.1 L326.7,148.6 L327.1,148.2 L327.5,147.7 L327.8,147.2 L328.2,146.7 L328.6,146.1 L328.9,145.6 L329.2,145.0 L329.5,144.5 L329.7,143.9 L330.0,143.3 L330.2,142.7 L330.3,142.1 L330.5,141.5 L330.6,140.9 L330.7,140.4 L330.8,139.8 L330.8,139.2 L330.8,138.7 L330.8,138.2 L330.7,137.7 L330.6,137.2 L330.5,136.8 L330.4,136.3 L330.2,135.9 L330.0,135.6 L329.8,135.2 L329.5,134.9 L329.2,134.6 L328.9,134.4 L328.6,134.2 Z" fill="#8a8a8a" stroke="#222" stroke-width="0.8"/>
<path d="M319.1,129.0 L327.5,133.8 M317.9,129.0 L326.3,133.7 M316.6,129.3 L324.9,134.0 M315.2,129.9 L323.6,134.6 M313.8,130.8 L322.2,135.6 M312.5,132.0 L320.9,136.8 M311.3,133.5 L319.7,138.2 M310.3,135.1 L318.7,139.8 M309.5,136.8 L317.8,141.5 M308.8,138.6 L317.2,143.3 M308.5,140.3 L316.8,145.0 M308.4,142.0 L316.7,146.7 M308.6,143.5 L316.9,148.2 M309.0,144.7 L317.4,149.5 M309.7,145.8 L318.0,150.5" stroke="#222" stroke-width="0.5" fill="none"/>
<path d="M318.9,151.2 L319.7,151.5 L320.4,151.7 L321.3,151.7 L322.1,151.5 L323.1,151.2 L324.0,150.8 L324.9,150.2 L325.8,149.5 L326.7,148.6 L327.5,147.7 L328.2,146.7 L328.9,145.6 L329.5,144.5 L330.0,143.3 L330.3,142.1 L330.6,140.9 L330.8,139.8 L330.8,138.7 L330.7,137.7 L330.5,136.8 L330.2,135.9 L329.8,135.2 L329.2,134.6 L328.6,134.2 L327.9,133.9 L327.1,133.7 L326.3,133.7 L325.4,133.9 L324.5,134.2 L323.6,134.6 L322.6,135.2 L321.7,135.9 L320.9,136.8 L320.1,137.7 L319.3,138.7 L318.7,139.8 L318.1,140.9 L317.6,142.1 L317.2,143.3 L316.9,144.5 L316.8,145.6 L316.7,146.7 L316.8,147.7 L317.0,148.6 L317.4,149.5 L317.8,150.2 L318.3,150.8 Z" fill="#fff" stroke="#222" stroke-width="0.9"/>
<path d="M320.5,148.9 L321.0,149.1 L321.5,149.2 L322.1,149.2 L322.8,149.1 L323.4,148.9 L324.1,148.5 L324.7,148.1 L325.4,147.6 L326.0,147.0 L326.5,146.4 L327.1,145.6 L327.6,144.8 L328.0,144.0 L328.3,143.2 L328.6,142.4 L328.8,141.5 L328.9,140.7 L328.9,139.9 L328.9,139.2 L328.7,138.5 L328.5,137.9 L328.2,137.4 L327.8,137.0 L327.4,136.7 L326.8,136.5 L326.3,136.4 L325.7,136.4 L325.1,136.5 L324.4,136.7 L323.8,137.0 L323.1,137.4 L322.5,137.9 L321.9,138.5 L321.3,139.2 L320.7,139.9 L320.3,140.7 L319.8,141.5 L319.5,142.4 L319.2,143.2 L319.0,144.0 L318.9,144.8 L318.9,145.6 L318.9,146.4 L319.1,147.0 L319.3,147.6 L319.6,148.1 L320.0,148.5 Z" fill="#fff" stroke="#222" stroke-width="0.6"/>
<g transform="translate(308.00,158.00) rotate(30)">
<path d="M0,-2.5 L4,-3 L4,3 L0,2.5 Z" fill="#fff" stroke="#222" stroke-width="0.8"/>
<ellipse cx="0" cy="0" rx="1.6" ry="3" fill="#fff" stroke="#222" stroke-width="0.8"/>
<path d="M4,-1.4 L15,-1.4 L15,1.4 L4,1.4" fill="#fff" stroke="#222" stroke-width="0.8"/>
<path d="M8,-1.4 L8,1.4 M10,-1.4 L10,1.4 M12,-1.4 L12,1.4 M14,-1.4 L14,1.4" stroke="#444" stroke-width="0.5"/>
</g>
<path d="M342.4,150.5 L347.6,149.0 L360.9,145.4 L366.8,145.6 L374.2,151.3 L374.2,155.0 L368.0,164.0 L360.0,171.2 L345.4,179.4 L341.0,180.9 L339.4,179.4 L341.7,169.8 L343.0,161.6 L341.7,154.2 Z" fill="#fff" stroke="#2a2a2a" stroke-width="0.8" />
<ellipse cx="343.90" cy="153.50" rx="1.20" ry="1.20" transform="rotate(30 343.90 153.50)" fill="none" stroke="#2a2a2a" stroke-width="0.6" />
<ellipse cx="371.20" cy="153.90" rx="1.20" ry="1.20" transform="rotate(30 371.20 153.90)" fill="none" stroke="#2a2a2a" stroke-width="0.6" />
<ellipse cx="341.70" cy="178.60" rx="1.20" ry="1.20" transform="rotate(30 341.70 178.60)" fill="none" stroke="#2a2a2a" stroke-width="0.6" />
<ellipse cx="356.50" cy="160.00" rx="6.50" ry="12.00" transform="rotate(30 356.50 160.00)" fill="none" stroke="#2a2a2a" stroke-width="0.8" />
<ellipse cx="358.50" cy="160.50" rx="5.00" ry="10.50" transform="rotate(30 358.50 160.50)" fill="none" stroke="#2a2a2a" stroke-width="0.6" />
<path d="M350,152 L371,164 M352,170 L357,173" fill="none" stroke="#2a2a2a" stroke-width="0.6" />
<ellipse cx="381.50" cy="174.40" rx="8.00" ry="12.90" transform="rotate(30 381.50 174.40)" fill="#fff" stroke="#2a2a2a" stroke-width="0.8" />
<ellipse cx="382.20" cy="174.80" rx="7.00" ry="11.60" transform="rotate(30 382.20 174.80)" fill="none" stroke="#2a2a2a" stroke-width="0.6" />
<ellipse cx="383.00" cy="175.20" rx="5.60" ry="9.40" transform="rotate(30 383.00 175.20)" fill="none" stroke="#2a2a2a" stroke-width="1.8" />
<ellipse cx="383.60" cy="175.50" rx="4.60" ry="8.00" transform="rotate(30 383.60 175.50)" fill="none" stroke="#2a2a2a" stroke-width="0.6" />
<path d="M386,177 L392,180.5" fill="none" stroke="#2a2a2a" stroke-width="0.6" />
<ellipse cx="398.40" cy="184.30" rx="5.60" ry="10.20" transform="rotate(30 398.40 184.30)" fill="none" stroke="#2a2a2a" stroke-width="1.0" />
<ellipse cx="398.80" cy="184.50" rx="4.80" ry="8.80" transform="rotate(30 398.80 184.50)" fill="none" stroke="#2a2a2a" stroke-width="0.7" />
<path d="M408.8,181.7 L414,180.5 L420.4,179.2 L430,177.5 L438.6,176.6 L446.3,181.7 L449,192 L445,199 L441,205 L436,215.5 L425.6,223.2 L410,225.8 L403.6,223.2" fill="none" stroke="#666" stroke-width="0.6" stroke-dasharray="1.6,1.5"/>
<path d="M410,183.5 L420.6,181.2 L438,178.8 L444.6,183 L446.8,192 L439,205 L434,214.5 L425,221 L411,223.5" fill="none" stroke="#aaa" stroke-width="0.5" stroke-dasharray="1.3,1.7"/>
<path d="M408.8,181.7 L403.6,194.7 L408.8,201.2 L405,210.3 L399.7,215.5 L403.6,223.2" fill="none" stroke="#2a2a2a" stroke-width="0.9" />
<ellipse cx="421.00" cy="197.80" rx="6.80" ry="11.00" transform="rotate(30 421.00 197.80)" fill="none" stroke="#666" stroke-width="0.55" stroke-dasharray="1.8,1.3"/>
<ellipse cx="410.00" cy="189.60" rx="1.20" ry="1.20" transform="rotate(30 410.00 189.60)" fill="none" stroke="#2a2a2a" stroke-width="0.6" />
<ellipse cx="437.30" cy="190.90" rx="1.20" ry="1.20" transform="rotate(30 437.30 190.90)" fill="none" stroke="#2a2a2a" stroke-width="0.6" />
<ellipse cx="407.50" cy="215.50" rx="1.20" ry="1.20" transform="rotate(30 407.50 215.50)" fill="none" stroke="#2a2a2a" stroke-width="0.6" />
<path d="M420.4,196 L460,218" fill="none" stroke="#2a2a2a" stroke-width="0.6" />
<path d="M491.2,219.7 L497.2,222.2 L496.3,227.4 L491.2,229.1 Z" fill="#fff" stroke="#2a2a2a" stroke-width="0.8" />
<ellipse cx="494.60" cy="224.80" rx="1.60" ry="1.60" transform="rotate(30 494.60 224.80)" fill="none" stroke="#2a2a2a" stroke-width="0.6" />
<path d="M460.1,219.7 L464.4,217.9 L470.5,220.5 L469.6,225.7 L463.6,226.6 Z" fill="#fff" stroke="#2a2a2a" stroke-width="0.8" />
<ellipse cx="467.00" cy="222.20" rx="1.60" ry="1.60" transform="rotate(30 467.00 222.20)" fill="none" stroke="#2a2a2a" stroke-width="0.6" />
<g transform="translate(482.20,231.20) rotate(30)">
<path d="M-5,-14.2 L0,-14.2 A7.952,14.2 0 0 1 0,14.2 L-5,14.2 A7.952,14.2 0 0 1 -5,-14.2 Z" fill="#fff" stroke="#2a2a2a" stroke-width="0.9"/>
<ellipse cx="0" cy="0" rx="7.952" ry="14.2" fill="#fff" stroke="#2a2a2a" stroke-width="0.9"/>
</g>
<ellipse cx="482.40" cy="231.30" rx="6.00" ry="10.50" transform="rotate(30 482.40 231.30)" fill="none" stroke="#2a2a2a" stroke-width="1.3" />
<ellipse cx="481.60" cy="230.90" rx="5.20" ry="9.20" transform="rotate(30 481.60 230.90)" fill="none" stroke="#2a2a2a" stroke-width="0.6" />
<path d="M445.5,225.7 L449.0,221.4 L453.2,220.5 L460.1,224.0 L469.6,229.1 L473.0,235.2 L475.7,239.5 L482.6,240.3 L483.4,246.4 L480.8,255.0 L475.7,260.2 L470.5,266.2 L464.4,270.5 L456.7,267.0 L448.0,263.6 L442.0,256.7 L441.2,249.8 L442.9,239.5 L443.8,230.9 Z" fill="#fff" stroke="#2a2a2a" stroke-width="0.9" />
<path d="M444.5,230.0 L447.0,223.5 L452.0,220.8 L460.0,220.2 L468.0,224.5 L471.0,231.0 L470.0,235.5 L462.0,236.0 L452.0,234.5 L445.5,233.5 Z" fill="#fff" stroke="#2a2a2a" stroke-width="0.8" />
<path d="M447,223.5 Q452,228 460,229 L470.5,231 M452,234.5 L455,229" fill="none" stroke="#2a2a2a" stroke-width="0.6" />
<path d="M441.2,249.8 L452,252 L466,257 M466,245 L482.6,240.3 M466,245 L466,270" fill="none" stroke="#2a2a2a" stroke-width="0.6" />
<ellipse cx="462.60" cy="238.50" rx="2.20" ry="2.20" transform="rotate(30 462.60 238.50)" fill="none" stroke="#2a2a2a" stroke-width="1.1" />
<ellipse cx="462.60" cy="238.50" rx="0.99" ry="0.99" transform="rotate(30 462.60 238.50)" fill="none" stroke="#2a2a2a" stroke-width="0.7" />
<ellipse cx="468.00" cy="236.50" rx="2.00" ry="2.00" transform="rotate(30 468.00 236.50)" fill="none" stroke="#2a2a2a" stroke-width="1.1" />
<ellipse cx="468.00" cy="236.50" rx="0.90" ry="0.90" transform="rotate(30 468.00 236.50)" fill="none" stroke="#2a2a2a" stroke-width="0.7" />
<ellipse cx="448.60" cy="245.30" rx="1.70" ry="1.70" transform="rotate(30 448.60 245.30)" fill="none" stroke="#2a2a2a" stroke-width="1.1" />
<ellipse cx="448.60" cy="245.30" rx="0.77" ry="0.77" transform="rotate(30 448.60 245.30)" fill="none" stroke="#2a2a2a" stroke-width="0.7" />
<ellipse cx="454.60" cy="248.60" rx="1.70" ry="1.70" transform="rotate(30 454.60 248.60)" fill="none" stroke="#2a2a2a" stroke-width="1.1" />
<ellipse cx="454.60" cy="248.60" rx="0.77" ry="0.77" transform="rotate(30 454.60 248.60)" fill="none" stroke="#2a2a2a" stroke-width="0.7" />
<ellipse cx="458.00" cy="253.00" rx="1.50" ry="1.50" transform="rotate(30 458.00 253.00)" fill="none" stroke="#2a2a2a" stroke-width="1.1" />
<ellipse cx="458.00" cy="253.00" rx="0.68" ry="0.68" transform="rotate(30 458.00 253.00)" fill="none" stroke="#2a2a2a" stroke-width="0.7" />
<path d="M444.6,240.6 L447,243 L445.5,247 L449,249 L451,247 L453,252 L456,250 L457,256 L459.5,258.5 M452,241 L455,244 L458,243" fill="none" stroke="#222" stroke-width="0.9" />
<ellipse cx="465.50" cy="266.20" rx="2.20" ry="2.20" transform="rotate(30 465.50 266.20)" fill="none" stroke="#2a2a2a" stroke-width="1.0" />
<ellipse cx="465.50" cy="266.20" rx="1.00" ry="1.00" transform="rotate(30 465.50 266.20)" fill="none" stroke="#2a2a2a" stroke-width="0.6" />
<path d="M471,248.5 L477,246 L477.8,250 L471.8,252.5 Z" fill="#fff" stroke="#333" stroke-width="0.6"/>
<path d="M472.5,248.3 L473,251.5 M474.5,247.5 L475,250.8" fill="none" stroke="#2a2a2a" stroke-width="0.5" />
<g transform="translate(526.50,257.50) rotate(30)">
<path d="M26.1,0.0 L25.8,0.9 L25.5,1.9 L25.0,2.7 L24.5,3.6 L23.9,4.4 L23.3,5.1 L22.7,5.9 L22.2,6.6 L21.7,7.3 L21.4,8.0 L21.1,8.7 L20.9,9.4 L20.8,10.2 L20.8,11.1 L20.9,12.0 L21.0,13.0 L21.2,14.0 L21.4,15.1 L21.5,16.2 L21.6,17.3 L21.7,18.4 L21.6,19.5 L21.5,20.5 L21.2,21.4 L20.8,22.2 L20.4,22.9 L19.8,23.5 L19.1,23.9 L18.4,24.3 L17.6,24.5 L16.8,24.6 L16.0,24.7 L15.2,24.8 L14.5,24.8 L13.7,24.9 L13.1,25.0 L12.5,25.3 L12.0,25.6 L11.5,26.0 L11.1,26.6 L10.7,27.3 L10.3,28.1 L10.0,29.0 L9.6,30.0 L9.2,31.0 L8.8,31.9 L8.4,32.9 L7.9,33.7 L7.3,34.5 L6.8,35.0 L6.1,35.5 L5.5,35.7 L4.8,35.7 L4.1,35.6 L3.3,35.3 L2.6,34.9 L1.9,34.3 L1.3,33.7 L0.6,33.0 L0.0,32.3 L-0.6,31.7 L-1.2,31.2 L-1.7,30.7 L-2.3,30.4 L-2.9,30.2 L-3.4,30.2 L-4.0,30.3 L-4.7,30.6 L-5.3,30.9 L-6.0,31.3 L-6.8,31.7 L-7.5,32.1 L-8.3,32.5 L-9.1,32.8 L-9.8,32.9 L-10.6,33.0 L-11.3,32.8 L-11.9,32.5 L-12.5,32.0 L-13.1,31.4 L-13.5,30.6 L-13.9,29.7 L-14.2,28.7 L-14.5,27.7 L-14.7,26.6 L-14.9,25.5 L-15.0,24.4 L-15.2,23.4 L-15.4,22.5 L-15.6,21.7 L-15.9,21.0 L-16.3,20.4 L-16.8,19.9 L-17.3,19.5 L-17.9,19.1 L-18.6,18.8 L-19.3,18.5 L-20.1,18.1 L-20.9,17.8 L-21.6,17.3 L-22.3,16.8 L-23.0,16.3 L-23.5,15.6 L-24.0,14.8 L-24.3,14.0 L-24.5,13.0 L-24.5,12.1 L-24.5,11.1 L-24.3,10.0 L-24.1,9.0 L-23.8,7.9 L-23.4,6.9 L-23.0,5.9 L-22.7,5.0 L-22.4,4.1 L-22.1,3.2 L-22.0,2.4 L-21.9,1.6 L-22.0,0.8 L-22.1,0.0 L-22.4,-0.8 L-22.7,-1.7 L-23.1,-2.5 L-23.5,-3.4 L-23.9,-4.4 L-24.3,-5.4 L-24.7,-6.4 L-25.0,-7.4 L-25.2,-8.4 L-25.2,-9.4 L-25.2,-10.4 L-25.0,-11.3 L-24.7,-12.1 L-24.2,-12.9 L-23.7,-13.6 L-23.1,-14.3 L-22.4,-14.8 L-21.6,-15.3 L-20.9,-15.8 L-20.2,-16.2 L-19.5,-16.6 L-18.8,-17.0 L-18.3,-17.5 L-17.8,-18.0 L-17.4,-18.6 L-17.1,-19.2 L-16.9,-20.0 L-16.7,-20.9 L-16.6,-21.9 L-16.5,-22.9 L-16.4,-24.0 L-16.3,-25.1 L-16.1,-26.2 L-15.9,-27.3 L-15.6,-28.3 L-15.3,-29.2 L-14.8,-30.0 L-14.3,-30.6 L-13.7,-31.1 L-13.1,-31.4 L-12.3,-31.6 L-11.6,-31.6 L-10.8,-31.4 L-10.0,-31.2 L-9.2,-30.9 L-8.5,-30.6 L-7.7,-30.3 L-7.0,-30.0 L-6.4,-29.8 L-5.7,-29.7 L-5.1,-29.7 L-4.6,-29.8 L-4.0,-30.1 L-3.5,-30.6 L-3.0,-31.1 L-2.4,-31.8 L-1.8,-32.5 L-1.3,-33.2 L-0.6,-34.0 L-0.0,-34.7 L0.7,-35.3 L1.3,-35.7 L2.0,-36.1 L2.7,-36.2 L3.4,-36.2 L4.1,-36.0 L4.7,-35.6 L5.4,-35.0 L5.9,-34.3 L6.5,-33.4 L6.9,-32.5 L7.4,-31.6 L7.8,-30.7 L8.2,-29.8 L8.6,-29.0 L9.1,-28.3 L9.5,-27.7 L10.0,-27.2 L10.5,-26.8 L11.1,-26.6 L11.7,-26.5 L12.4,-26.5 L13.1,-26.5 L13.9,-26.6 L14.7,-26.6 L15.5,-26.6 L16.3,-26.5 L17.1,-26.4 L17.8,-26.1 L18.5,-25.7 L19.0,-25.1 L19.5,-24.4 L19.9,-23.6 L20.2,-22.7 L20.3,-21.7 L20.4,-20.6 L20.4,-19.5 L20.4,-18.4 L20.3,-17.2 L20.2,-16.2 L20.1,-15.1 L20.0,-14.2 L20.0,-13.3 L20.1,-12.4 L20.3,-11.7 L20.6,-11.0 L20.9,-10.3 L21.4,-9.7 L21.9,-9.0 L22.5,-8.4 L23.1,-7.7 L23.8,-7.0 L24.4,-6.3 L25.0,-5.5 L25.4,-4.7 L25.8,-3.8 L26.1,-2.9 L26.2,-1.9 L26.2,-1.0 Z" fill="#fff" stroke="#222" stroke-width="0.9"/>
<ellipse cx="20.0" cy="-6.1" rx="1.5" ry="2.0" fill="#fff" stroke="#333" stroke-width="0.6"/>
<ellipse cx="20.4" cy="3.6" rx="1.5" ry="2.0" fill="#fff" stroke="#333" stroke-width="0.6"/>
<ellipse cx="18.2" cy="13.3" rx="1.5" ry="2.0" fill="#fff" stroke="#333" stroke-width="0.6"/>
<ellipse cx="13.9" cy="20.9" rx="1.5" ry="2.0" fill="#fff" stroke="#333" stroke-width="0.6"/>
<ellipse cx="7.8" cy="26.4" rx="1.5" ry="2.0" fill="#fff" stroke="#333" stroke-width="0.6"/>
<ellipse cx="1.0" cy="28.5" rx="1.5" ry="2.0" fill="#fff" stroke="#333" stroke-width="0.6"/>
<ellipse cx="-6.2" cy="27.1" rx="1.5" ry="2.0" fill="#fff" stroke="#333" stroke-width="0.6"/>
<ellipse cx="-12.4" cy="22.7" rx="1.5" ry="2.0" fill="#fff" stroke="#333" stroke-width="0.6"/>
<ellipse cx="-17.3" cy="15.2" rx="1.5" ry="2.0" fill="#fff" stroke="#333" stroke-width="0.6"/>
<ellipse cx="-20.0" cy="6.3" rx="1.5" ry="2.0" fill="#fff" stroke="#333" stroke-width="0.6"/>
<ellipse cx="-20.3" cy="-3.8" rx="1.5" ry="2.0" fill="#fff" stroke="#333" stroke-width="0.6"/>
<ellipse cx="-18.3" cy="-13.0" rx="1.5" ry="2.0" fill="#fff" stroke="#333" stroke-width="0.6"/>
<ellipse cx="-13.8" cy="-21.1" rx="1.5" ry="2.0" fill="#fff" stroke="#333" stroke-width="0.6"/>
<ellipse cx="-8.0" cy="-26.3" rx="1.5" ry="2.0" fill="#fff" stroke="#333" stroke-width="0.6"/>
<ellipse cx="-0.8" cy="-28.5" rx="1.5" ry="2.0" fill="#fff" stroke="#333" stroke-width="0.6"/>
<ellipse cx="6.1" cy="-27.2" rx="1.5" ry="2.0" fill="#fff" stroke="#333" stroke-width="0.6"/>
<ellipse cx="12.6" cy="-22.5" rx="1.5" ry="2.0" fill="#fff" stroke="#333" stroke-width="0.6"/>
<ellipse cx="17.2" cy="-15.4" rx="1.5" ry="2.0" fill="#fff" stroke="#333" stroke-width="0.6"/>
<ellipse cx="15.2" cy="4.2" rx="1.5" ry="2.0" fill="#fff" stroke="#333" stroke-width="0.6"/>
<ellipse cx="12.9" cy="11.9" rx="1.5" ry="2.0" fill="#fff" stroke="#333" stroke-width="0.6"/>
<ellipse cx="8.6" cy="17.9" rx="1.5" ry="2.0" fill="#fff" stroke="#333" stroke-width="0.6"/>
<ellipse cx="3.0" cy="21.1" rx="1.5" ry="2.0" fill="#fff" stroke="#333" stroke-width="0.6"/>
<ellipse cx="-3.0" cy="21.1" rx="1.5" ry="2.0" fill="#fff" stroke="#333" stroke-width="0.6"/>
<ellipse cx="-8.6" cy="17.9" rx="1.5" ry="2.0" fill="#fff" stroke="#333" stroke-width="0.6"/>
<ellipse cx="-12.9" cy="11.9" rx="1.5" ry="2.0" fill="#fff" stroke="#333" stroke-width="0.6"/>
<ellipse cx="-15.2" cy="4.2" rx="1.5" ry="2.0" fill="#fff" stroke="#333" stroke-width="0.6"/>
<ellipse cx="-15.2" cy="-4.2" rx="1.5" ry="2.0" fill="#fff" stroke="#333" stroke-width="0.6"/>
<ellipse cx="-12.9" cy="-11.9" rx="1.5" ry="2.0" fill="#fff" stroke="#333" stroke-width="0.6"/>
<ellipse cx="-8.6" cy="-17.9" rx="1.5" ry="2.0" fill="#fff" stroke="#333" stroke-width="0.6"/>
<ellipse cx="-3.0" cy="-21.1" rx="1.5" ry="2.0" fill="#fff" stroke="#333" stroke-width="0.6"/>
<ellipse cx="3.0" cy="-21.1" rx="1.5" ry="2.0" fill="#fff" stroke="#333" stroke-width="0.6"/>
<ellipse cx="8.6" cy="-17.9" rx="1.5" ry="2.0" fill="#fff" stroke="#333" stroke-width="0.6"/>
<ellipse cx="12.9" cy="-11.9" rx="1.5" ry="2.0" fill="#fff" stroke="#333" stroke-width="0.6"/>
<ellipse cx="15.2" cy="-4.2" rx="1.5" ry="2.0" fill="#fff" stroke="#333" stroke-width="0.6"/>
<ellipse cx="0" cy="0" rx="9.5" ry="14.5" fill="#fff" stroke="#333" stroke-width="0.7"/>
<path d="M0,-12.5 L3,-12.5 A7,12.5 0 0 1 3,12.5 L0,12.5 A7,12.5 0 0 1 0,-12.5 Z" fill="#fff" stroke="#222" stroke-width="0.8"/>
<ellipse cx="3" cy="0" rx="7" ry="12.5" fill="#fff" stroke="#222" stroke-width="0.8"/>
<ellipse cx="3.5" cy="0" rx="5.2" ry="9" fill="#777" stroke="#222" stroke-width="0.8"/>
<path d="M8.7,0.0 L8.4,0.0 M8.4,2.8 L8.2,1.9 M7.7,5.3 L7.8,3.5 M6.6,7.3 L7.0,4.9 M5.1,8.6 L6.1,5.7 M3.5,9.0 L5.0,6.0 M1.9,8.6 L3.9,5.7 M0.4,7.3 L3.0,4.9 M-0.7,5.3 L2.2,3.5 M-1.4,2.8 L1.8,1.9 M-1.7,0.0 L1.6,0.0 M-1.4,-2.8 L1.8,-1.9 M-0.7,-5.3 L2.2,-3.5 M0.4,-7.3 L3.0,-4.9 M1.9,-8.6 L3.9,-5.7 M3.5,-9.0 L5.0,-6.0 M5.1,-8.6 L6.1,-5.7 M6.6,-7.3 L7.0,-4.9 M7.7,-5.3 L7.8,-3.5 M8.4,-2.8 L8.2,-1.9" stroke="#222" stroke-width="0.5"/>
<ellipse cx="5" cy="0" rx="3.4" ry="6" fill="#e8e8e8" stroke="#333" stroke-width="0.6"/>
</g>
<path d="M501.7,245.5 L512,251" fill="none" stroke="#2a2a2a" stroke-width="0.6" />
<ellipse cx="557.60" cy="276.20" rx="6.20" ry="9.90" transform="rotate(30 557.60 276.20)" fill="none" stroke="#2a2a2a" stroke-width="1.0" />
<ellipse cx="557.80" cy="276.30" rx="5.20" ry="8.70" transform="rotate(30 557.80 276.30)" fill="none" stroke="#2a2a2a" stroke-width="0.7" />
<path d="M553.5,283.5 L556,285.5 M551.8,281 L553,284" fill="none" stroke="#2a2a2a" stroke-width="0.9" />
<path d="M346.8,19.2 L350.6,20.7 L353.6,24.5 L352.9,28.0 L348.0,30.0 L343.0,27.0 Z" fill="#fff" stroke="#2a2a2a" stroke-width="0.8" />
<ellipse cx="351.30" cy="24.50" rx="1.50" ry="1.50" transform="rotate(30 351.30 24.50)" fill="none" stroke="#2a2a2a" stroke-width="0.6" />
<path d="M374.0,19.0 L378.0,19.5 L381.0,23.0 L380.0,27.5 L376.0,29.0 Z" fill="#fff" stroke="#2a2a2a" stroke-width="0.8" />
<ellipse cx="378.00" cy="24.00" rx="1.40" ry="1.40" transform="rotate(30 378.00 24.00)" fill="none" stroke="#2a2a2a" stroke-width="0.6" />
<path d="M368.0,46.0 L372.0,46.0 L375.0,49.5 L373.0,52.5 L369.0,52.0 Z" fill="#fff" stroke="#2a2a2a" stroke-width="0.8" />
<ellipse cx="372.00" cy="49.50" rx="1.20" ry="1.20" transform="rotate(30 372.00 49.50)" fill="none" stroke="#2a2a2a" stroke-width="0.6" />
<path d="M326.9,29.9 L329.2,25.3 L335.3,21.5 L339.0,23.8 L343.0,27.0 L346.0,32.0 L348.3,42.9 L350.6,48.2 L350.0,53.7 L343.0,55.9 L342.2,62.0 L335.3,66.6 L333.0,67.3 L326.0,60.5 L325.4,54.3 L328.4,48.2 L329.2,36.8 Z" fill="#fff" stroke="#2a2a2a" stroke-width="0.9" />
<path d="M325.4,54.3 L339,48.2 L343,55.9 M339,48.2 L336,60 L333,67.3 M329.2,36.8 L337,41 L340,48" fill="none" stroke="#2a2a2a" stroke-width="0.6" />
<path d="M326.9,29.9 L334,33 L339,23.8 M334,33 L333,44 M343,27 L337,37" fill="none" stroke="#2a2a2a" stroke-width="0.6" />
<ellipse cx="329.20" cy="30.60" rx="1.50" ry="1.50" transform="rotate(30 329.20 30.60)" fill="none" stroke="#2a2a2a" stroke-width="0.6" />
<ellipse cx="337.60" cy="35.20" rx="1.20" ry="1.20" transform="rotate(30 337.60 35.20)" fill="none" stroke="#2a2a2a" stroke-width="0.6" />
<ellipse cx="339.90" cy="62.00" rx="1.50" ry="1.50" transform="rotate(30 339.90 62.00)" fill="none" stroke="#2a2a2a" stroke-width="0.6" />
<ellipse cx="331.00" cy="45.00" rx="1.20" ry="1.20" transform="rotate(30 331.00 45.00)" fill="none" stroke="#2a2a2a" stroke-width="0.6" />
<g transform="translate(366.00,31.50) rotate(30)">
<path d="M-5,-16 L0,-16 A8.96,16 0 0 1 0,16 L-5,16 A8.96,16 0 0 1 -5,-16 Z" fill="#fff" stroke="#2a2a2a" stroke-width="0.9"/>
<ellipse cx="0" cy="0" rx="8.96" ry="16" fill="#fff" stroke="#2a2a2a" stroke-width="0.9"/>
</g>
<ellipse cx="366.30" cy="31.70" rx="7.00" ry="12.50" transform="rotate(30 366.30 31.70)" fill="none" stroke="#2a2a2a" stroke-width="0.8" />
<ellipse cx="364.50" cy="30.70" rx="6.40" ry="11.50" transform="rotate(30 364.50 30.70)" fill="none" stroke="#2a2a2a" stroke-width="0.6" />
<path d="M357,27 L370,35" fill="none" stroke="#2a2a2a" stroke-width="0.6" />
<g transform="translate(398.50,52.00) rotate(30)">
<path d="M-5,-14.5 L0,-14.5 A8.41,14.5 0 0 1 0,14.5 L-5,14.5 A8.41,14.5 0 0 1 -5,-14.5 Z" fill="#fff" stroke="#2a2a2a" stroke-width="0.9"/>
<ellipse cx="0" cy="0" rx="8.41" ry="14.5" fill="#fff" stroke="#2a2a2a" stroke-width="0.9"/>
</g>
<ellipse cx="398.80" cy="52.20" rx="6.80" ry="11.80" transform="rotate(30 398.80 52.20)" fill="none" stroke="#2a2a2a" stroke-width="0.7" />
<ellipse cx="399.30" cy="52.50" rx="5.90" ry="10.20" transform="rotate(30 399.30 52.50)" fill="none" stroke="#444" stroke-width="1.0" />
<ellipse cx="399.60" cy="52.70" rx="4.40" ry="7.60" transform="rotate(30 399.60 52.70)" fill="none" stroke="#2a2a2a" stroke-width="0.8" />
<ellipse cx="400.00" cy="52.90" rx="3.50" ry="6.20" transform="rotate(30 400.00 52.90)" fill="none" stroke="#2a2a2a" stroke-width="0.6" />
<path d="M394,49.5 L404,55.5" fill="none" stroke="#2a2a2a" stroke-width="0.6" />
<ellipse cx="420.20" cy="63.70" rx="8.40" ry="15.00" transform="rotate(30 420.20 63.70)" fill="none" stroke="#2a2a2a" stroke-width="1.2" />
<ellipse cx="420.40" cy="63.80" rx="7.50" ry="13.80" transform="rotate(30 420.40 63.80)" fill="none" stroke="#2a2a2a" stroke-width="0.6" />
<ellipse cx="431.00" cy="92.00" rx="5.20" ry="9.00" transform="rotate(30 431.00 92.00)" fill="none" stroke="#2a2a2a" stroke-width="1.2" />
<ellipse cx="431.30" cy="92.20" rx="4.20" ry="7.50" transform="rotate(30 431.30 92.20)" fill="none" stroke="#2a2a2a" stroke-width="0.6" />
<g transform="translate(446.50,101.50) rotate(30)">
<path d="M-3.5,-8.5 L3,-8.5 A4.675000000000001,8.5 0 0 1 3,8.5 L-3.5,8.5 A4.675000000000001,8.5 0 0 1 -3.5,-8.5 Z" fill="#fff" stroke="#2a2a2a" stroke-width="0.8"/>
<ellipse cx="3" cy="0" rx="4.675000000000001" ry="8.5" fill="#fff" stroke="#2a2a2a" stroke-width="0.8"/>
</g>
<ellipse cx="449.60" cy="103.30" rx="3.90" ry="7.00" transform="rotate(30 449.60 103.30)" fill="none" stroke="#2a2a2a" stroke-width="0.6" />
<path d="M445.5,99 L449,106" fill="none" stroke="#666" stroke-width="0.5" />
<path d="M463.3,106.6 L465.0,104.6 L474.6,102.4 L476.8,104.6 L476.2,121.3 L474.0,123.0 L463.8,124.8 L461.5,122.0 L459.6,121.5 L457.0,118.5 L458.0,115.5 L461.8,114.8 Z" fill="#fff" stroke="#2a2a2a" stroke-width="0.8" />
<path d="M465.6,107 L474.5,105 L474,121 L466,122.6 Z" fill="#d6d6d6" stroke="#444" stroke-width="0.5"/>
<path d="M467.9,114.6h0.5 M469.0,115.5h0.5 M471.0,107.9h0.5 M466.1,118.7h0.5 M468.1,110.3h0.5 M474.0,113.6h0.5 M472.7,113.7h0.5 M471.1,109.1h0.5 M471.1,119.2h0.5 M470.2,117.4h0.5 M471.4,107.9h0.5 M472.1,115.3h0.5 M468.4,107.4h0.5 M472.9,113.6h0.5 M471.8,119.3h0.5 M471.7,119.9h0.5 M469.2,118.2h0.5 M469.6,120.1h0.5 M473.0,108.4h0.5 M467.1,110.0h0.5 M473.7,113.1h0.5 M471.0,111.2h0.5 M470.1,112.4h0.5 M468.8,115.2h0.5 M470.7,119.7h0.5 M471.5,120.0h0.5 M472.9,120.9h0.5 M471.4,109.3h0.5 M472.9,120.5h0.5 M473.2,115.0h0.5 M471.7,110.0h0.5 M472.7,115.0h0.5 M468.3,107.9h0.5 M472.8,120.9h0.5" stroke="#777" stroke-width="0.7"/>
<ellipse cx="459.50" cy="118.20" rx="1.00" ry="1.00" transform="rotate(30 459.50 118.20)" fill="none" stroke="#2a2a2a" stroke-width="0.6" />
<path d="M482.0,117.0 L484.0,115.0 L486.0,116.0 L488.0,114.5 L490.0,115.2 L493.0,113.3 L496.2,116.5 L495.5,122.0 L495.0,129.0 L489.0,133.8 L484.0,132.5 L481.0,133.5 L476.8,131.5 L477.0,128.0 L481.0,126.5 Z" fill="#fff" stroke="#2a2a2a" stroke-width="0.8" />
<ellipse cx="489.50" cy="121.00" rx="1.30" ry="1.30" transform="rotate(30 489.50 121.00)" fill="none" stroke="#2a2a2a" stroke-width="0.6" />
<ellipse cx="484.50" cy="127.50" rx="1.30" ry="1.30" transform="rotate(30 484.50 127.50)" fill="none" stroke="#2a2a2a" stroke-width="0.6" />
<ellipse cx="479.00" cy="130.00" rx="0.90" ry="0.90" transform="rotate(30 479.00 130.00)" fill="none" stroke="#2a2a2a" stroke-width="0.5" />
<path d="M482,117 L481,126.5 M488,134 L494,129" fill="none" stroke="#555" stroke-width="0.5" />
<g transform="translate(508.00,136.00) rotate(30)">
<path d="M-3,-8.5 L3,-8.5 A4.675000000000001,8.5 0 0 1 3,8.5 L-3,8.5 A4.675000000000001,8.5 0 0 1 -3,-8.5 Z" fill="#fff" stroke="#2a2a2a" stroke-width="0.8"/>
<ellipse cx="3" cy="0" rx="4.675000000000001" ry="8.5" fill="#fff" stroke="#2a2a2a" stroke-width="0.8"/>
</g>
<ellipse cx="511.30" cy="138.00" rx="2.80" ry="5.00" transform="rotate(30 511.30 138.00)" fill="#fff" stroke="#2a2a2a" stroke-width="0.6" />
<ellipse cx="510.50" cy="137.50" rx="3.80" ry="6.80" transform="rotate(30 510.50 137.50)" fill="none" stroke="#2a2a2a" stroke-width="0.5" />
<ellipse cx="526.50" cy="147.00" rx="5.20" ry="9.00" transform="rotate(30 526.50 147.00)" fill="none" stroke="#2a2a2a" stroke-width="1.2" />
<ellipse cx="526.80" cy="147.20" rx="4.20" ry="7.50" transform="rotate(30 526.80 147.20)" fill="none" stroke="#2a2a2a" stroke-width="0.6" />
<path d="M534,151.5 L542,155 M534,173.2 L539,175.5" fill="none" stroke="#2a2a2a" stroke-width="0.6" />
<path d="M549.0,160.0 L556.0,152.0 L563.1,154.9 L570.6,161.0 L572.6,167.7 L570.6,173.2 L565.8,177.9 L562.5,182.7 L557.7,186.0 L554.3,188.7 L551.0,178.6 L547.0,172.0 L549.5,168.0 Z" fill="#fff" stroke="#2a2a2a" stroke-width="0.9" />
<path d="M541.5,156.9 L542.1,150.1 L544.0,147.6 L546.2,147.2 L552.3,146.7 L559.1,150.1 L562.5,154.2 L563.0,157.0 L555.7,159.6 L551.6,161.6 Z" fill="#fff" stroke="#2a2a2a" stroke-width="0.9" />
<path d="M542.1,150.1 Q547,153 551.6,152.5 L559.1,150.1 M551.6,152.5 L551.6,161.6" fill="none" stroke="#2a2a2a" stroke-width="0.6" />
<path d="M539.4,177.9 L542.8,175.9 L551.0,178.6 L556.4,182.0 L554.3,188.7 L551.6,190.1 L541.5,186.7 L539.4,184.0 Z" fill="#fff" stroke="#2a2a2a" stroke-width="0.9" />
<path d="M539.4,177.9 L551,183 L556.4,182 M551,183 L551.6,190.1" fill="none" stroke="#2a2a2a" stroke-width="0.6" />
<path d="M553,162 L555,170 L552,172 L553.5,176 M558,158 L562,163 M563,162 L566,166" fill="none" stroke="#2a2a2a" stroke-width="0.6" />
<path d="M562,168 L567,168.5 L564,172 Z" fill="none" stroke="#2a2a2a" stroke-width="0.6" />
<ellipse cx="557.00" cy="186.00" rx="1.80" ry="1.80" transform="rotate(30 557.00 186.00)" fill="none" stroke="#2a2a2a" stroke-width="0.7" />
<ellipse cx="559.00" cy="156.00" rx="1.50" ry="1.50" transform="rotate(30 559.00 156.00)" fill="none" stroke="#2a2a2a" stroke-width="0.6" />
<path d="M557.7,160.3 L603,185 M561,181.3 L593,200" fill="none" stroke="#2a2a2a" stroke-width="0.6" />
<ellipse cx="586.00" cy="178.00" rx="3.50" ry="2.20" transform="rotate(30 586.00 178.00)" fill="none" stroke="#2a2a2a" stroke-width="0.8" />
<path d="M574.4,184.3 L589.5,192.3" fill="none" stroke="#999" stroke-width="1.3" />
<path d="M574.4,184.3 L589.5,192.3" fill="none" stroke="#333" stroke-width="0.5" stroke-dasharray="0.8,0.7"/>
<path d="M590,193 Q589,186.5 593,186 Q598.5,186.5 598.3,193 Q597.5,199.5 592.5,199.8 L590.5,198.8 L590.8,201" fill="none" stroke="#2a2a2a" stroke-width="0.9" />
<path d="M590,193 L593.5,191" fill="none" stroke="#2a2a2a" stroke-width="0.7" />
<g transform="translate(603.00,182.00) rotate(30)">
<path d="M0,-2.3 L17,-2.3 L17,2.3 L0,2.3 Z" fill="#d4d4d4" stroke="#444" stroke-width="0.7"/>
<path d="M1,-1.6 L16,-1.6 M1,0 L16,0 M1,1.6 L16,1.6" stroke="#aaa" stroke-width="0.5"/>
<path d="M17,-3.5 L21,-3.5 A2,3.5 0 0 1 21,3.5 L17,3.5 Z" fill="#fff" stroke="#222" stroke-width="0.8"/>
<ellipse cx="21" cy="0" rx="1.1" ry="1.8" fill="#fff" stroke="#444" stroke-width="0.5"/>
</g>
<g transform="translate(593.00,206.00) rotate(30)">
<path d="M0,-2.3 L17,-2.3 L17,2.3 L0,2.3 Z" fill="#d4d4d4" stroke="#444" stroke-width="0.7"/>
<path d="M1,-1.6 L16,-1.6 M1,0 L16,0 M1,1.6 L16,1.6" stroke="#aaa" stroke-width="0.5"/>
<path d="M17,-3.5 L21,-3.5 A2,3.5 0 0 1 21,3.5 L17,3.5 Z" fill="#fff" stroke="#222" stroke-width="0.8"/>
<ellipse cx="21" cy="0" rx="1.1" ry="1.8" fill="#fff" stroke="#444" stroke-width="0.5"/>
</g>
<text x="204.4" y="164" class="l">1</text>
<text x="188.4" y="29.2" class="l">2</text>
<text x="164.0" y="36.5" class="l">3</text>
<text x="177.4" y="94" class="l">4</text>
<text x="217.4" y="146.2" class="l">5</text>
<text x="401.2" y="139.7" class="l">6</text>
<text x="394.59999999999997" y="157" class="l">7</text>
<text x="419.7" y="171.7" class="l">8</text>
<text x="291.7" y="178.6" class="l">9</text>
<text x="532.6" y="77.2" class="l">10</text>
<text x="505.2" y="215.5" class="l">10</text>
<text x="399.09999999999997" y="28.9" class="l">11</text>
<text x="416.59999999999997" y="39.7" class="l">12</text>
<text x="443.0" y="54.7" class="l">13</text>
<text x="460.0" y="83.4" class="l">14</text>
<text x="536.4" y="127.7" class="l">14</text>
<text x="498.2" y="104.8" class="l">15</text>
<text x="558.4" y="212.2" class="l">16</text>
<text x="597.8" y="168.2" class="l">17</text>
<text x="624.4" y="213.3" class="l">18</text>
<text x="574.4" y="246.8" class="l">19</text>
<text x="574.4" y="262" class="l">20</text>
<text x="175.9" y="165.4" class="l">21</text>
<text x="123.4" y="175" class="l">22</text>
<text x="149.9" y="256.2" class="l">23</text>
<text x="184.4" y="268" class="l">24</text>
<text x="184.4" y="283.2" class="l">25</text>
<text x="242.3" y="298.4" class="l">26</text>
<text x="385.79999999999995" y="298.5" class="l">27</text>
<text x="385.5" y="313" class="l">28</text>
<text x="362.09999999999997" y="365.8" class="l">29</text>
<text x="444.0" y="337.4" class="l">30</text>
<text x="422.79999999999995" y="349.6" class="l">31</text>
<text x="471.7" y="353" class="l">32</text>
<text x="471.7" y="369.2" class="l">33</text>
<text x="471.7" y="384.2" class="l">34</text>

</svg></body></html>
